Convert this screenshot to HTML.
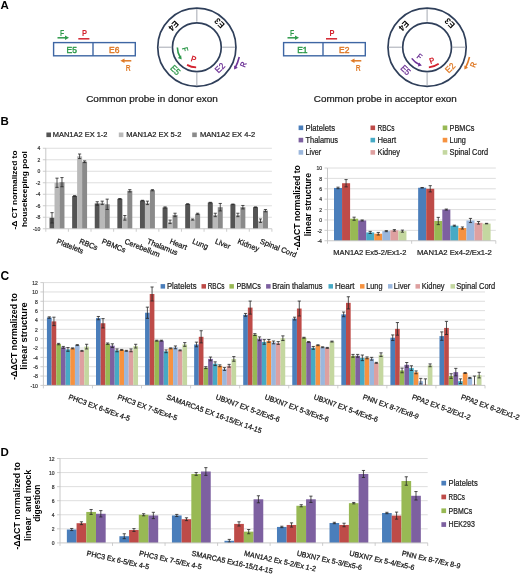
<!DOCTYPE html>
<html><head><meta charset="utf-8"><style>
html,body{margin:0;padding:0;background:#fff;}
svg{display:block;filter:blur(0.3px);}
text{font-family:"Liberation Sans", sans-serif;}
</style></head><body>
<svg width="520" height="576" viewBox="0 0 520 576">
<rect width="520" height="576" fill="#fff"/>
<text x="0.60" y="9.30" font-size="11.5" font-weight="bold">A</text>
<rect x="53.60" y="42.6" width="81.7" height="13.2" fill="none" stroke="#3e66a3" stroke-width="1.4"/>
<line x1="93.00" y1="42.60" x2="93.00" y2="55.80" stroke="#3e66a3" stroke-width="1.4"/>
<text x="71.80" y="52.50" font-size="9.2" fill="#2f9a4c" stroke="#2f9a4c" stroke-width="0.45" text-anchor="middle" textLength="10.4" lengthAdjust="spacingAndGlyphs">E5</text>
<text x="114.20" y="52.70" font-size="9.2" fill="#df7a27" stroke="#df7a27" stroke-width="0.45" text-anchor="middle" textLength="10.4" lengthAdjust="spacingAndGlyphs">E6</text>
<line x1="57.50" y1="37.80" x2="66.00" y2="37.80" stroke="#2f9a4c" stroke-width="1.5"/>
<path d="M65.00,35.6 L69.00,37.8 L65.00,40 Z" fill="#2f9a4c"/>
<text x="62.20" y="35.50" font-size="8.3" fill="#2f9a4c" font-weight="bold" text-anchor="middle" textLength="4.2" lengthAdjust="spacingAndGlyphs">F</text>
<line x1="78.30" y1="38.80" x2="89.40" y2="38.80" stroke="#d3232f" stroke-width="1.5"/>
<text x="84.40" y="36.40" font-size="8.3" fill="#d3232f" font-weight="bold" text-anchor="middle" textLength="5.0" lengthAdjust="spacingAndGlyphs">P</text>
<line x1="123.50" y1="60.80" x2="131.30" y2="60.80" stroke="#df7a27" stroke-width="1.5"/>
<path d="M124.50,58.6 L120.40,60.8 L124.50,63 Z" fill="#df7a27"/>
<text x="128.20" y="70.70" font-size="8.3" fill="#df7a27" font-weight="bold" text-anchor="middle" textLength="4.9" lengthAdjust="spacingAndGlyphs">R</text>
<rect x="283.60" y="42.6" width="81.7" height="13.2" fill="none" stroke="#3e66a3" stroke-width="1.4"/>
<line x1="323.00" y1="42.60" x2="323.00" y2="55.80" stroke="#3e66a3" stroke-width="1.4"/>
<text x="302.40" y="52.50" font-size="9.2" fill="#2f9a4c" stroke="#2f9a4c" stroke-width="0.45" text-anchor="middle" textLength="10.4" lengthAdjust="spacingAndGlyphs">E1</text>
<text x="344.20" y="52.70" font-size="9.2" fill="#df7a27" stroke="#df7a27" stroke-width="0.45" text-anchor="middle" textLength="10.4" lengthAdjust="spacingAndGlyphs">E2</text>
<line x1="287.50" y1="37.80" x2="296.00" y2="37.80" stroke="#2f9a4c" stroke-width="1.5"/>
<path d="M295.00,35.6 L299.00,37.8 L295.00,40 Z" fill="#2f9a4c"/>
<text x="292.20" y="35.50" font-size="8.3" fill="#2f9a4c" font-weight="bold" text-anchor="middle" textLength="4.2" lengthAdjust="spacingAndGlyphs">F</text>
<line x1="326.00" y1="38.80" x2="337.10" y2="38.80" stroke="#d3232f" stroke-width="1.5"/>
<text x="332.10" y="36.40" font-size="8.3" fill="#d3232f" font-weight="bold" text-anchor="middle" textLength="5.0" lengthAdjust="spacingAndGlyphs">P</text>
<line x1="353.50" y1="60.80" x2="361.30" y2="60.80" stroke="#df7a27" stroke-width="1.5"/>
<path d="M354.50,58.6 L350.40,60.8 L354.50,63 Z" fill="#df7a27"/>
<text x="358.20" y="70.70" font-size="8.3" fill="#df7a27" font-weight="bold" text-anchor="middle" textLength="4.9" lengthAdjust="spacingAndGlyphs">R</text>
<circle cx="196.85" cy="47.2" r="39.1" fill="none" stroke="#2f3f5a" stroke-width="1.7"/>
<circle cx="196.85" cy="47.2" r="24.4" fill="none" stroke="#2f3f5a" stroke-width="1.7"/>
<line x1="196.85" y1="21.70" x2="196.85" y2="9.00" stroke="#a4a9b2" stroke-width="1"/>
<line x1="196.85" y1="72.70" x2="196.85" y2="85.40" stroke="#a4a9b2" stroke-width="1"/>
<line x1="171.35" y1="47.20" x2="158.65" y2="47.20" stroke="#a4a9b2" stroke-width="1"/>
<line x1="222.35" y1="47.20" x2="235.05" y2="47.20" stroke="#a4a9b2" stroke-width="1"/>
<g transform="translate(173.65 25.90) rotate(-225.0)"><text x="0" y="3.2" font-size="9" font-weight="bold" fill="#000" text-anchor="middle" textLength="10" lengthAdjust="spacingAndGlyphs">E4</text></g>
<g transform="translate(219.35 23.20) rotate(-135.0)"><text x="0" y="3.2" font-size="9" font-weight="bold" fill="#000" text-anchor="middle" textLength="10" lengthAdjust="spacingAndGlyphs">E3</text></g>
<g transform="translate(219.85 67.80) rotate(-45.0)"><text x="0" y="3.2" font-size="9" stroke="#6e3497" stroke-width="0.3" fill="#6e3497" text-anchor="middle" textLength="10" lengthAdjust="spacingAndGlyphs">E2</text></g>
<g transform="translate(175.55 69.90) rotate(45.0)"><text x="0" y="3.2" font-size="9" stroke="#2f9a4c" stroke-width="0.3" fill="#2f9a4c" text-anchor="middle" textLength="10" lengthAdjust="spacingAndGlyphs">E5</text></g>
<circle cx="427.1" cy="47.2" r="39.1" fill="none" stroke="#2f3f5a" stroke-width="1.7"/>
<circle cx="427.1" cy="47.2" r="24.4" fill="none" stroke="#2f3f5a" stroke-width="1.7"/>
<line x1="427.10" y1="21.70" x2="427.10" y2="9.00" stroke="#a4a9b2" stroke-width="1"/>
<line x1="427.10" y1="72.70" x2="427.10" y2="85.40" stroke="#a4a9b2" stroke-width="1"/>
<line x1="401.60" y1="47.20" x2="388.90" y2="47.20" stroke="#a4a9b2" stroke-width="1"/>
<line x1="452.60" y1="47.20" x2="465.30" y2="47.20" stroke="#a4a9b2" stroke-width="1"/>
<g transform="translate(403.90 25.90) rotate(-225.0)"><text x="0" y="3.2" font-size="9" font-weight="bold" fill="#000" text-anchor="middle" textLength="10" lengthAdjust="spacingAndGlyphs">E4</text></g>
<g transform="translate(449.60 23.20) rotate(-135.0)"><text x="0" y="3.2" font-size="9" font-weight="bold" fill="#000" text-anchor="middle" textLength="10" lengthAdjust="spacingAndGlyphs">E3</text></g>
<g transform="translate(450.10 67.80) rotate(-45.0)"><text x="0" y="3.2" font-size="9" stroke="#df7a27" stroke-width="0.3" fill="#df7a27" text-anchor="middle" textLength="10" lengthAdjust="spacingAndGlyphs">E2</text></g>
<g transform="translate(405.80 69.90) rotate(45.0)"><text x="0" y="3.2" font-size="9" stroke="#6e3497" stroke-width="0.3" fill="#6e3497" text-anchor="middle" textLength="10" lengthAdjust="spacingAndGlyphs">E5</text></g>
<path d="M177.35,47.54 A19.5,19.5 0 0 0 180.24,57.42" fill="none" stroke="#2f9a4c" stroke-width="1.6"/>
<path d="M181.70,59.47 L177.75,58.03 L181.11,55.31 Z" fill="#2f9a4c"/>
<g transform="translate(185.20 49.20) rotate(75.0)"><text x="0" y="3.06" font-size="8.5" font-weight="bold" fill="#2f9a4c" text-anchor="middle" textLength="4.4" lengthAdjust="spacingAndGlyphs">F</text></g>
<path d="M187.06,64.87 A20.2,20.2 0 0 0 196.15,67.39" fill="none" stroke="#d3232f" stroke-width="1.8"/>
<g transform="translate(193.60 58.80) rotate(18.0)"><text x="0" y="3.06" font-size="8.5" font-weight="bold" fill="#d3232f" text-anchor="middle" textLength="5.2" lengthAdjust="spacingAndGlyphs">P</text></g>
<path d="M239.24,56.99 A43.5,43.5 0 0 1 235.37,67.41" fill="none" stroke="#6e3497" stroke-width="1.6"/>
<path d="M234.14,69.60 L234.14,65.41 L237.84,67.63 Z" fill="#6e3497"/>
<g transform="translate(243.20 64.40) rotate(-68.0)"><text x="0" y="3.06" font-size="8.5" font-weight="bold" fill="#6e3497" text-anchor="middle" textLength="5.2" lengthAdjust="spacingAndGlyphs">R</text></g>
<path d="M411.73,58.37 A19,19 0 0 0 419.49,64.61" fill="none" stroke="#6e3497" stroke-width="1.6"/>
<path d="M421.86,65.46 L417.81,66.55 L419.00,62.40 Z" fill="#6e3497"/>
<g transform="translate(419.60 56.50) rotate(38.0)"><text x="0" y="3.06" font-size="8.5" font-weight="bold" fill="#6e3497" text-anchor="middle" textLength="4.4" lengthAdjust="spacingAndGlyphs">F</text></g>
<path d="M428.86,67.32 A20.2,20.2 0 0 0 438.69,63.75" fill="none" stroke="#d3232f" stroke-width="1.8"/>
<g transform="translate(431.80 60.50) rotate(-20.0)"><text x="0" y="3.06" font-size="8.5" font-weight="bold" fill="#d3232f" text-anchor="middle" textLength="5.2" lengthAdjust="spacingAndGlyphs">P</text></g>
<path d="M469.49,56.99 A43.5,43.5 0 0 1 465.62,67.41" fill="none" stroke="#df7a27" stroke-width="1.6"/>
<path d="M464.39,69.60 L464.39,65.41 L468.09,67.63 Z" fill="#df7a27"/>
<g transform="translate(473.20 64.60) rotate(-68.0)"><text x="0" y="3.06" font-size="8.5" font-weight="bold" fill="#df7a27" text-anchor="middle" textLength="5.2" lengthAdjust="spacingAndGlyphs">R</text></g>
<text x="152.00" y="102.00" font-size="8.4" fill="#222" stroke="#222" stroke-width="0.22" text-anchor="middle" textLength="131.6" lengthAdjust="spacingAndGlyphs">Common probe in donor exon</text>
<text x="385.30" y="102.00" font-size="8.4" fill="#222" stroke="#222" stroke-width="0.22" text-anchor="middle" textLength="143" lengthAdjust="spacingAndGlyphs">Common probe in acceptor exon</text>
<text x="0.60" y="124.80" font-size="11.5" font-weight="bold">B</text>
<line x1="45.80" y1="148.25" x2="271.90" y2="148.25" stroke="#dadada" stroke-width="0.9"/>
<line x1="42.80" y1="148.25" x2="45.80" y2="148.25" stroke="#c2c2c2" stroke-width="0.8"/>
<text x="40.30" y="150.48" font-size="6.2" fill="#333" stroke="#333" stroke-width="0.22" text-anchor="end" textLength="2.8" lengthAdjust="spacingAndGlyphs">4</text>
<line x1="45.80" y1="159.75" x2="271.90" y2="159.75" stroke="#dadada" stroke-width="0.9"/>
<line x1="42.80" y1="159.75" x2="45.80" y2="159.75" stroke="#c2c2c2" stroke-width="0.8"/>
<text x="40.30" y="161.98" font-size="6.2" fill="#333" stroke="#333" stroke-width="0.22" text-anchor="end" textLength="2.8" lengthAdjust="spacingAndGlyphs">2</text>
<line x1="45.80" y1="171.25" x2="271.90" y2="171.25" stroke="#dadada" stroke-width="0.9"/>
<line x1="42.80" y1="171.25" x2="45.80" y2="171.25" stroke="#c2c2c2" stroke-width="0.8"/>
<text x="40.30" y="173.48" font-size="6.2" fill="#333" stroke="#333" stroke-width="0.22" text-anchor="end" textLength="2.8" lengthAdjust="spacingAndGlyphs">0</text>
<line x1="45.80" y1="182.75" x2="271.90" y2="182.75" stroke="#dadada" stroke-width="0.9"/>
<line x1="42.80" y1="182.75" x2="45.80" y2="182.75" stroke="#c2c2c2" stroke-width="0.8"/>
<text x="40.30" y="184.98" font-size="6.2" fill="#333" stroke="#333" stroke-width="0.22" text-anchor="end" textLength="4.6" lengthAdjust="spacingAndGlyphs">-2</text>
<line x1="45.80" y1="194.25" x2="271.90" y2="194.25" stroke="#dadada" stroke-width="0.9"/>
<line x1="42.80" y1="194.25" x2="45.80" y2="194.25" stroke="#c2c2c2" stroke-width="0.8"/>
<text x="40.30" y="196.48" font-size="6.2" fill="#333" stroke="#333" stroke-width="0.22" text-anchor="end" textLength="4.6" lengthAdjust="spacingAndGlyphs">-4</text>
<line x1="45.80" y1="205.75" x2="271.90" y2="205.75" stroke="#dadada" stroke-width="0.9"/>
<line x1="42.80" y1="205.75" x2="45.80" y2="205.75" stroke="#c2c2c2" stroke-width="0.8"/>
<text x="40.30" y="207.98" font-size="6.2" fill="#333" stroke="#333" stroke-width="0.22" text-anchor="end" textLength="4.6" lengthAdjust="spacingAndGlyphs">-6</text>
<line x1="45.80" y1="217.25" x2="271.90" y2="217.25" stroke="#dadada" stroke-width="0.9"/>
<line x1="42.80" y1="217.25" x2="45.80" y2="217.25" stroke="#c2c2c2" stroke-width="0.8"/>
<text x="40.30" y="219.48" font-size="6.2" fill="#333" stroke="#333" stroke-width="0.22" text-anchor="end" textLength="4.6" lengthAdjust="spacingAndGlyphs">-8</text>
<line x1="42.80" y1="228.75" x2="45.80" y2="228.75" stroke="#c2c2c2" stroke-width="0.8"/>
<text x="40.30" y="230.98" font-size="6.2" fill="#333" stroke="#333" stroke-width="0.22" text-anchor="end" textLength="7.3999999999999995" lengthAdjust="spacingAndGlyphs">-10</text>
<rect x="49.53" y="217.82" width="4.98" height="10.93" fill="#545454"/>
<line x1="52.02" y1="212.65" x2="52.02" y2="223.00" stroke="#262626" stroke-width="0.8"/>
<line x1="50.42" y1="212.65" x2="53.62" y2="212.65" stroke="#262626" stroke-width="0.8"/>
<line x1="50.42" y1="223.00" x2="53.62" y2="223.00" stroke="#262626" stroke-width="0.8"/>
<rect x="54.51" y="182.75" width="4.98" height="46.00" fill="#b9b9b9"/>
<line x1="57.00" y1="178.15" x2="57.00" y2="187.35" stroke="#262626" stroke-width="0.8"/>
<line x1="55.40" y1="178.15" x2="58.60" y2="178.15" stroke="#262626" stroke-width="0.8"/>
<line x1="55.40" y1="187.35" x2="58.60" y2="187.35" stroke="#262626" stroke-width="0.8"/>
<rect x="59.49" y="182.18" width="4.98" height="46.57" fill="#8a8a8a"/>
<line x1="61.98" y1="177.57" x2="61.98" y2="186.78" stroke="#262626" stroke-width="0.8"/>
<line x1="60.38" y1="177.57" x2="63.58" y2="177.57" stroke="#262626" stroke-width="0.8"/>
<line x1="60.38" y1="186.78" x2="63.58" y2="186.78" stroke="#262626" stroke-width="0.8"/>
<rect x="72.14" y="195.98" width="4.98" height="32.77" fill="#545454"/>
<line x1="74.63" y1="195.69" x2="74.63" y2="196.26" stroke="#262626" stroke-width="0.8"/>
<line x1="73.03" y1="195.69" x2="76.23" y2="195.69" stroke="#262626" stroke-width="0.8"/>
<line x1="73.03" y1="196.26" x2="76.23" y2="196.26" stroke="#262626" stroke-width="0.8"/>
<rect x="77.12" y="156.30" width="4.98" height="72.45" fill="#b9b9b9"/>
<line x1="79.61" y1="154.00" x2="79.61" y2="158.60" stroke="#262626" stroke-width="0.8"/>
<line x1="78.01" y1="154.00" x2="81.21" y2="154.00" stroke="#262626" stroke-width="0.8"/>
<line x1="78.01" y1="158.60" x2="81.21" y2="158.60" stroke="#262626" stroke-width="0.8"/>
<rect x="82.10" y="161.76" width="4.98" height="66.99" fill="#8a8a8a"/>
<line x1="84.59" y1="160.90" x2="84.59" y2="162.62" stroke="#262626" stroke-width="0.8"/>
<line x1="82.99" y1="160.90" x2="86.19" y2="160.90" stroke="#262626" stroke-width="0.8"/>
<line x1="82.99" y1="162.62" x2="86.19" y2="162.62" stroke="#262626" stroke-width="0.8"/>
<rect x="94.75" y="203.45" width="4.98" height="25.30" fill="#545454"/>
<line x1="97.24" y1="201.73" x2="97.24" y2="205.18" stroke="#262626" stroke-width="0.8"/>
<line x1="95.64" y1="201.73" x2="98.84" y2="201.73" stroke="#262626" stroke-width="0.8"/>
<line x1="95.64" y1="205.18" x2="98.84" y2="205.18" stroke="#262626" stroke-width="0.8"/>
<rect x="99.73" y="202.88" width="4.98" height="25.88" fill="#b9b9b9"/>
<line x1="102.22" y1="201.15" x2="102.22" y2="204.60" stroke="#262626" stroke-width="0.8"/>
<line x1="100.62" y1="201.15" x2="103.82" y2="201.15" stroke="#262626" stroke-width="0.8"/>
<line x1="100.62" y1="204.60" x2="103.82" y2="204.60" stroke="#262626" stroke-width="0.8"/>
<rect x="104.71" y="204.31" width="4.98" height="24.44" fill="#8a8a8a"/>
<line x1="107.20" y1="199.14" x2="107.20" y2="209.49" stroke="#262626" stroke-width="0.8"/>
<line x1="105.60" y1="199.14" x2="108.80" y2="199.14" stroke="#262626" stroke-width="0.8"/>
<line x1="105.60" y1="209.49" x2="108.80" y2="209.49" stroke="#262626" stroke-width="0.8"/>
<rect x="117.36" y="198.85" width="4.98" height="29.90" fill="#545454"/>
<line x1="119.85" y1="198.56" x2="119.85" y2="199.14" stroke="#262626" stroke-width="0.8"/>
<line x1="118.25" y1="198.56" x2="121.45" y2="198.56" stroke="#262626" stroke-width="0.8"/>
<line x1="118.25" y1="199.14" x2="121.45" y2="199.14" stroke="#262626" stroke-width="0.8"/>
<rect x="122.34" y="217.82" width="4.98" height="10.93" fill="#b9b9b9"/>
<line x1="124.83" y1="215.52" x2="124.83" y2="220.12" stroke="#262626" stroke-width="0.8"/>
<line x1="123.23" y1="215.52" x2="126.43" y2="215.52" stroke="#262626" stroke-width="0.8"/>
<line x1="123.23" y1="220.12" x2="126.43" y2="220.12" stroke="#262626" stroke-width="0.8"/>
<rect x="127.32" y="190.80" width="4.98" height="37.95" fill="#8a8a8a"/>
<line x1="129.81" y1="189.65" x2="129.81" y2="191.95" stroke="#262626" stroke-width="0.8"/>
<line x1="128.21" y1="189.65" x2="131.41" y2="189.65" stroke="#262626" stroke-width="0.8"/>
<line x1="128.21" y1="191.95" x2="131.41" y2="191.95" stroke="#262626" stroke-width="0.8"/>
<rect x="139.97" y="200.57" width="4.98" height="28.18" fill="#545454"/>
<line x1="142.46" y1="200.29" x2="142.46" y2="200.86" stroke="#262626" stroke-width="0.8"/>
<line x1="140.86" y1="200.29" x2="144.06" y2="200.29" stroke="#262626" stroke-width="0.8"/>
<line x1="140.86" y1="200.86" x2="144.06" y2="200.86" stroke="#262626" stroke-width="0.8"/>
<rect x="144.95" y="202.88" width="4.98" height="25.88" fill="#b9b9b9"/>
<line x1="147.44" y1="201.15" x2="147.44" y2="204.60" stroke="#262626" stroke-width="0.8"/>
<line x1="145.84" y1="201.15" x2="149.04" y2="201.15" stroke="#262626" stroke-width="0.8"/>
<line x1="145.84" y1="204.60" x2="149.04" y2="204.60" stroke="#262626" stroke-width="0.8"/>
<rect x="149.93" y="190.22" width="4.98" height="38.53" fill="#8a8a8a"/>
<line x1="152.42" y1="189.65" x2="152.42" y2="190.80" stroke="#262626" stroke-width="0.8"/>
<line x1="150.82" y1="189.65" x2="154.02" y2="189.65" stroke="#262626" stroke-width="0.8"/>
<line x1="150.82" y1="190.80" x2="154.02" y2="190.80" stroke="#262626" stroke-width="0.8"/>
<rect x="162.58" y="207.48" width="4.98" height="21.27" fill="#545454"/>
<line x1="165.07" y1="206.90" x2="165.07" y2="208.05" stroke="#262626" stroke-width="0.8"/>
<line x1="163.47" y1="206.90" x2="166.67" y2="206.90" stroke="#262626" stroke-width="0.8"/>
<line x1="163.47" y1="208.05" x2="166.67" y2="208.05" stroke="#262626" stroke-width="0.8"/>
<rect x="167.56" y="221.85" width="4.98" height="6.90" fill="#b9b9b9"/>
<line x1="170.05" y1="220.12" x2="170.05" y2="223.58" stroke="#262626" stroke-width="0.8"/>
<line x1="168.45" y1="220.12" x2="171.65" y2="220.12" stroke="#262626" stroke-width="0.8"/>
<line x1="168.45" y1="223.58" x2="171.65" y2="223.58" stroke="#262626" stroke-width="0.8"/>
<rect x="172.54" y="214.95" width="4.98" height="13.80" fill="#8a8a8a"/>
<line x1="175.03" y1="213.23" x2="175.03" y2="216.68" stroke="#262626" stroke-width="0.8"/>
<line x1="173.43" y1="213.23" x2="176.63" y2="213.23" stroke="#262626" stroke-width="0.8"/>
<line x1="173.43" y1="216.68" x2="176.63" y2="216.68" stroke="#262626" stroke-width="0.8"/>
<rect x="185.19" y="204.02" width="4.98" height="24.73" fill="#545454"/>
<line x1="187.68" y1="203.74" x2="187.68" y2="204.31" stroke="#262626" stroke-width="0.8"/>
<line x1="186.08" y1="203.74" x2="189.28" y2="203.74" stroke="#262626" stroke-width="0.8"/>
<line x1="186.08" y1="204.31" x2="189.28" y2="204.31" stroke="#262626" stroke-width="0.8"/>
<rect x="190.17" y="219.55" width="4.98" height="9.20" fill="#b9b9b9"/>
<line x1="192.66" y1="218.98" x2="192.66" y2="220.12" stroke="#262626" stroke-width="0.8"/>
<line x1="191.06" y1="218.98" x2="194.26" y2="218.98" stroke="#262626" stroke-width="0.8"/>
<line x1="191.06" y1="220.12" x2="194.26" y2="220.12" stroke="#262626" stroke-width="0.8"/>
<rect x="195.15" y="213.80" width="4.98" height="14.95" fill="#8a8a8a"/>
<line x1="197.64" y1="213.23" x2="197.64" y2="214.38" stroke="#262626" stroke-width="0.8"/>
<line x1="196.04" y1="213.23" x2="199.24" y2="213.23" stroke="#262626" stroke-width="0.8"/>
<line x1="196.04" y1="214.38" x2="199.24" y2="214.38" stroke="#262626" stroke-width="0.8"/>
<rect x="207.80" y="202.59" width="4.98" height="26.16" fill="#545454"/>
<line x1="210.29" y1="202.30" x2="210.29" y2="202.88" stroke="#262626" stroke-width="0.8"/>
<line x1="208.69" y1="202.30" x2="211.89" y2="202.30" stroke="#262626" stroke-width="0.8"/>
<line x1="208.69" y1="202.88" x2="211.89" y2="202.88" stroke="#262626" stroke-width="0.8"/>
<rect x="212.78" y="214.95" width="4.98" height="13.80" fill="#b9b9b9"/>
<line x1="215.27" y1="213.23" x2="215.27" y2="216.68" stroke="#262626" stroke-width="0.8"/>
<line x1="213.67" y1="213.23" x2="216.87" y2="213.23" stroke="#262626" stroke-width="0.8"/>
<line x1="213.67" y1="216.68" x2="216.87" y2="216.68" stroke="#262626" stroke-width="0.8"/>
<rect x="217.76" y="207.19" width="4.98" height="21.56" fill="#8a8a8a"/>
<line x1="220.25" y1="203.45" x2="220.25" y2="210.93" stroke="#262626" stroke-width="0.8"/>
<line x1="218.65" y1="203.45" x2="221.85" y2="203.45" stroke="#262626" stroke-width="0.8"/>
<line x1="218.65" y1="210.93" x2="221.85" y2="210.93" stroke="#262626" stroke-width="0.8"/>
<rect x="230.41" y="204.31" width="4.98" height="24.44" fill="#545454"/>
<line x1="232.90" y1="204.02" x2="232.90" y2="204.60" stroke="#262626" stroke-width="0.8"/>
<line x1="231.30" y1="204.02" x2="234.50" y2="204.02" stroke="#262626" stroke-width="0.8"/>
<line x1="231.30" y1="204.60" x2="234.50" y2="204.60" stroke="#262626" stroke-width="0.8"/>
<rect x="235.39" y="214.95" width="4.98" height="13.80" fill="#b9b9b9"/>
<line x1="237.88" y1="213.23" x2="237.88" y2="216.68" stroke="#262626" stroke-width="0.8"/>
<line x1="236.28" y1="213.23" x2="239.48" y2="213.23" stroke="#262626" stroke-width="0.8"/>
<line x1="236.28" y1="216.68" x2="239.48" y2="216.68" stroke="#262626" stroke-width="0.8"/>
<rect x="240.37" y="207.19" width="4.98" height="21.56" fill="#8a8a8a"/>
<line x1="242.86" y1="205.46" x2="242.86" y2="208.91" stroke="#262626" stroke-width="0.8"/>
<line x1="241.26" y1="205.46" x2="244.46" y2="205.46" stroke="#262626" stroke-width="0.8"/>
<line x1="241.26" y1="208.91" x2="244.46" y2="208.91" stroke="#262626" stroke-width="0.8"/>
<rect x="253.02" y="207.19" width="4.98" height="21.56" fill="#545454"/>
<line x1="255.51" y1="206.90" x2="255.51" y2="207.48" stroke="#262626" stroke-width="0.8"/>
<line x1="253.91" y1="206.90" x2="257.11" y2="206.90" stroke="#262626" stroke-width="0.8"/>
<line x1="253.91" y1="207.48" x2="257.11" y2="207.48" stroke="#262626" stroke-width="0.8"/>
<rect x="258.00" y="220.70" width="4.98" height="8.05" fill="#b9b9b9"/>
<line x1="260.49" y1="218.97" x2="260.49" y2="222.43" stroke="#262626" stroke-width="0.8"/>
<line x1="258.89" y1="218.97" x2="262.09" y2="218.97" stroke="#262626" stroke-width="0.8"/>
<line x1="258.89" y1="222.43" x2="262.09" y2="222.43" stroke="#262626" stroke-width="0.8"/>
<rect x="262.98" y="210.64" width="4.98" height="18.11" fill="#8a8a8a"/>
<line x1="265.47" y1="209.49" x2="265.47" y2="211.79" stroke="#262626" stroke-width="0.8"/>
<line x1="263.87" y1="209.49" x2="267.07" y2="209.49" stroke="#262626" stroke-width="0.8"/>
<line x1="263.87" y1="211.79" x2="267.07" y2="211.79" stroke="#262626" stroke-width="0.8"/>
<line x1="45.80" y1="148.25" x2="45.80" y2="228.75" stroke="#c2c2c2" stroke-width="0.9"/>
<line x1="45.80" y1="228.75" x2="271.90" y2="228.75" stroke="#c2c2c2" stroke-width="0.9"/>
<line x1="45.80" y1="228.75" x2="45.80" y2="231.75" stroke="#c2c2c2" stroke-width="0.8"/>
<line x1="68.41" y1="228.75" x2="68.41" y2="231.75" stroke="#c2c2c2" stroke-width="0.8"/>
<line x1="91.02" y1="228.75" x2="91.02" y2="231.75" stroke="#c2c2c2" stroke-width="0.8"/>
<line x1="113.63" y1="228.75" x2="113.63" y2="231.75" stroke="#c2c2c2" stroke-width="0.8"/>
<line x1="136.24" y1="228.75" x2="136.24" y2="231.75" stroke="#c2c2c2" stroke-width="0.8"/>
<line x1="158.85" y1="228.75" x2="158.85" y2="231.75" stroke="#c2c2c2" stroke-width="0.8"/>
<line x1="181.46" y1="228.75" x2="181.46" y2="231.75" stroke="#c2c2c2" stroke-width="0.8"/>
<line x1="204.07" y1="228.75" x2="204.07" y2="231.75" stroke="#c2c2c2" stroke-width="0.8"/>
<line x1="226.68" y1="228.75" x2="226.68" y2="231.75" stroke="#c2c2c2" stroke-width="0.8"/>
<line x1="249.29" y1="228.75" x2="249.29" y2="231.75" stroke="#c2c2c2" stroke-width="0.8"/>
<line x1="271.90" y1="228.75" x2="271.90" y2="231.75" stroke="#c2c2c2" stroke-width="0.8"/>
<rect x="46.40" y="132.50" width="4.60" height="4.60" fill="#545454"/>
<text x="52.80" y="137.30" font-size="7.8" fill="#222" stroke="#222" stroke-width="0.22" textLength="54.7" lengthAdjust="spacingAndGlyphs">MAN1A2 EX 1-2</text>
<rect x="118.80" y="132.50" width="4.60" height="4.60" fill="#b9b9b9"/>
<text x="126.30" y="137.30" font-size="7.8" fill="#222" stroke="#222" stroke-width="0.22" textLength="55.2" lengthAdjust="spacingAndGlyphs">MAN1A2 EX 5-2</text>
<rect x="192.20" y="132.50" width="4.60" height="4.60" fill="#8a8a8a"/>
<text x="199.90" y="137.30" font-size="7.8" fill="#222" stroke="#222" stroke-width="0.22" textLength="55.2" lengthAdjust="spacingAndGlyphs">MAN1A2 EX 4-2</text>
<text x="0" y="0" font-size="7.6" font-weight="bold" text-anchor="middle" textLength="79" lengthAdjust="spacingAndGlyphs" transform="translate(17.20 190.00) rotate(-90)">-Δ CT normalized to</text>
<text x="0" y="0" font-size="7.6" font-weight="bold" text-anchor="middle" textLength="75.8" lengthAdjust="spacingAndGlyphs" transform="translate(26.80 189.10) rotate(-90)">housekeeping pool</text>
<text x="0" y="0" font-size="7.6" fill="#111" stroke="#111" stroke-width="0.22" transform="translate(56.10 243.20) rotate(22) scale(0.97 1)">Platelets</text>
<text x="0" y="0" font-size="7.6" fill="#111" stroke="#111" stroke-width="0.22" transform="translate(78.72 243.20) rotate(22) scale(0.97 1)">RBCs</text>
<text x="0" y="0" font-size="7.6" fill="#111" stroke="#111" stroke-width="0.22" transform="translate(101.32 243.20) rotate(22) scale(0.97 1)">PBMCs</text>
<text x="0" y="0" font-size="7.6" fill="#111" stroke="#111" stroke-width="0.22" transform="translate(123.93 243.20) rotate(22) scale(0.97 1)">Cerebellum</text>
<text x="0" y="0" font-size="7.6" fill="#111" stroke="#111" stroke-width="0.22" transform="translate(146.55 243.20) rotate(22) scale(0.97 1)">Thalamus</text>
<text x="0" y="0" font-size="7.6" fill="#111" stroke="#111" stroke-width="0.22" transform="translate(169.15 243.20) rotate(22) scale(0.97 1)">Heart</text>
<text x="0" y="0" font-size="7.6" fill="#111" stroke="#111" stroke-width="0.22" transform="translate(191.76 243.20) rotate(22) scale(0.97 1)">Lung</text>
<text x="0" y="0" font-size="7.6" fill="#111" stroke="#111" stroke-width="0.22" transform="translate(214.38 243.20) rotate(22) scale(0.97 1)">Liver</text>
<text x="0" y="0" font-size="7.6" fill="#111" stroke="#111" stroke-width="0.22" transform="translate(236.99 243.20) rotate(22) scale(0.97 1)">Kidney</text>
<text x="0" y="0" font-size="7.6" fill="#111" stroke="#111" stroke-width="0.22" transform="translate(259.59 243.20) rotate(22) scale(0.97 1)">Spinal Cord</text>
<line x1="327.50" y1="168.00" x2="495.80" y2="168.00" stroke="#dadada" stroke-width="0.9"/>
<line x1="324.50" y1="168.00" x2="327.50" y2="168.00" stroke="#c2c2c2" stroke-width="0.8"/>
<text x="322.00" y="170.23" font-size="6.2" fill="#333" stroke="#333" stroke-width="0.22" text-anchor="end" textLength="5.6" lengthAdjust="spacingAndGlyphs">10</text>
<line x1="327.50" y1="178.39" x2="495.80" y2="178.39" stroke="#dadada" stroke-width="0.9"/>
<line x1="324.50" y1="178.39" x2="327.50" y2="178.39" stroke="#c2c2c2" stroke-width="0.8"/>
<text x="322.00" y="180.62" font-size="6.2" fill="#333" stroke="#333" stroke-width="0.22" text-anchor="end" textLength="2.8" lengthAdjust="spacingAndGlyphs">8</text>
<line x1="327.50" y1="188.79" x2="495.80" y2="188.79" stroke="#dadada" stroke-width="0.9"/>
<line x1="324.50" y1="188.79" x2="327.50" y2="188.79" stroke="#c2c2c2" stroke-width="0.8"/>
<text x="322.00" y="191.02" font-size="6.2" fill="#333" stroke="#333" stroke-width="0.22" text-anchor="end" textLength="2.8" lengthAdjust="spacingAndGlyphs">6</text>
<line x1="327.50" y1="199.18" x2="495.80" y2="199.18" stroke="#dadada" stroke-width="0.9"/>
<line x1="324.50" y1="199.18" x2="327.50" y2="199.18" stroke="#c2c2c2" stroke-width="0.8"/>
<text x="322.00" y="201.41" font-size="6.2" fill="#333" stroke="#333" stroke-width="0.22" text-anchor="end" textLength="2.8" lengthAdjust="spacingAndGlyphs">4</text>
<line x1="327.50" y1="209.57" x2="495.80" y2="209.57" stroke="#dadada" stroke-width="0.9"/>
<line x1="324.50" y1="209.57" x2="327.50" y2="209.57" stroke="#c2c2c2" stroke-width="0.8"/>
<text x="322.00" y="211.80" font-size="6.2" fill="#333" stroke="#333" stroke-width="0.22" text-anchor="end" textLength="2.8" lengthAdjust="spacingAndGlyphs">2</text>
<line x1="327.50" y1="219.96" x2="495.80" y2="219.96" stroke="#dadada" stroke-width="0.9"/>
<line x1="324.50" y1="219.96" x2="327.50" y2="219.96" stroke="#c2c2c2" stroke-width="0.8"/>
<text x="322.00" y="222.20" font-size="6.2" fill="#333" stroke="#333" stroke-width="0.22" text-anchor="end" textLength="2.8" lengthAdjust="spacingAndGlyphs">0</text>
<line x1="327.50" y1="230.36" x2="495.80" y2="230.36" stroke="#dadada" stroke-width="0.9"/>
<line x1="324.50" y1="230.36" x2="327.50" y2="230.36" stroke="#c2c2c2" stroke-width="0.8"/>
<text x="322.00" y="232.59" font-size="6.2" fill="#333" stroke="#333" stroke-width="0.22" text-anchor="end" textLength="4.6" lengthAdjust="spacingAndGlyphs">-2</text>
<line x1="324.50" y1="240.75" x2="327.50" y2="240.75" stroke="#c2c2c2" stroke-width="0.8"/>
<text x="322.00" y="242.98" font-size="6.2" fill="#333" stroke="#333" stroke-width="0.22" text-anchor="end" textLength="4.6" lengthAdjust="spacingAndGlyphs">-4</text>
<rect x="334.00" y="187.95" width="8.05" height="52.80" fill="#4a7ebb"/>
<line x1="338.02" y1="187.17" x2="338.02" y2="188.73" stroke="#262626" stroke-width="0.8"/>
<line x1="336.42" y1="187.17" x2="339.62" y2="187.17" stroke="#262626" stroke-width="0.8"/>
<line x1="336.42" y1="188.73" x2="339.62" y2="188.73" stroke="#262626" stroke-width="0.8"/>
<rect x="342.05" y="183.23" width="8.05" height="57.52" fill="#be4b48"/>
<line x1="346.07" y1="179.59" x2="346.07" y2="186.86" stroke="#262626" stroke-width="0.8"/>
<line x1="344.47" y1="179.59" x2="347.68" y2="179.59" stroke="#262626" stroke-width="0.8"/>
<line x1="344.47" y1="186.86" x2="347.68" y2="186.86" stroke="#262626" stroke-width="0.8"/>
<rect x="350.10" y="218.72" width="8.05" height="22.03" fill="#98b954"/>
<line x1="354.12" y1="217.16" x2="354.12" y2="220.28" stroke="#262626" stroke-width="0.8"/>
<line x1="352.52" y1="217.16" x2="355.73" y2="217.16" stroke="#262626" stroke-width="0.8"/>
<line x1="352.52" y1="220.28" x2="355.73" y2="220.28" stroke="#262626" stroke-width="0.8"/>
<rect x="358.15" y="220.48" width="8.05" height="20.27" fill="#7d60a0"/>
<line x1="362.17" y1="219.96" x2="362.17" y2="221.00" stroke="#262626" stroke-width="0.8"/>
<line x1="360.57" y1="219.96" x2="363.77" y2="219.96" stroke="#262626" stroke-width="0.8"/>
<line x1="360.57" y1="221.00" x2="363.77" y2="221.00" stroke="#262626" stroke-width="0.8"/>
<rect x="366.20" y="232.44" width="8.05" height="8.31" fill="#46aac5"/>
<line x1="370.22" y1="231.40" x2="370.22" y2="233.47" stroke="#262626" stroke-width="0.8"/>
<line x1="368.62" y1="231.40" x2="371.82" y2="231.40" stroke="#262626" stroke-width="0.8"/>
<line x1="368.62" y1="233.47" x2="371.82" y2="233.47" stroke="#262626" stroke-width="0.8"/>
<rect x="374.25" y="233.73" width="8.05" height="7.02" fill="#f69240"/>
<line x1="378.27" y1="232.44" x2="378.27" y2="235.03" stroke="#262626" stroke-width="0.8"/>
<line x1="376.67" y1="232.44" x2="379.88" y2="232.44" stroke="#262626" stroke-width="0.8"/>
<line x1="376.67" y1="235.03" x2="379.88" y2="235.03" stroke="#262626" stroke-width="0.8"/>
<rect x="382.30" y="231.14" width="8.05" height="9.61" fill="#9bb7dd"/>
<line x1="386.32" y1="230.62" x2="386.32" y2="231.66" stroke="#262626" stroke-width="0.8"/>
<line x1="384.72" y1="230.62" x2="387.93" y2="230.62" stroke="#262626" stroke-width="0.8"/>
<line x1="384.72" y1="231.66" x2="387.93" y2="231.66" stroke="#262626" stroke-width="0.8"/>
<rect x="390.35" y="230.36" width="8.05" height="10.39" fill="#dea0a0"/>
<line x1="394.38" y1="229.58" x2="394.38" y2="231.14" stroke="#262626" stroke-width="0.8"/>
<line x1="392.77" y1="229.58" x2="395.98" y2="229.58" stroke="#262626" stroke-width="0.8"/>
<line x1="392.77" y1="231.14" x2="395.98" y2="231.14" stroke="#262626" stroke-width="0.8"/>
<rect x="398.40" y="231.14" width="8.05" height="9.61" fill="#c4d7a0"/>
<line x1="402.42" y1="230.10" x2="402.42" y2="232.18" stroke="#262626" stroke-width="0.8"/>
<line x1="400.82" y1="230.10" x2="404.02" y2="230.10" stroke="#262626" stroke-width="0.8"/>
<line x1="400.82" y1="232.18" x2="404.02" y2="232.18" stroke="#262626" stroke-width="0.8"/>
<rect x="418.15" y="187.75" width="8.05" height="53.00" fill="#4a7ebb"/>
<line x1="422.17" y1="187.49" x2="422.17" y2="188.01" stroke="#262626" stroke-width="0.8"/>
<line x1="420.57" y1="187.49" x2="423.77" y2="187.49" stroke="#262626" stroke-width="0.8"/>
<line x1="420.57" y1="188.01" x2="423.77" y2="188.01" stroke="#262626" stroke-width="0.8"/>
<rect x="426.20" y="188.79" width="8.05" height="51.96" fill="#be4b48"/>
<line x1="430.22" y1="185.67" x2="430.22" y2="191.90" stroke="#262626" stroke-width="0.8"/>
<line x1="428.62" y1="185.67" x2="431.82" y2="185.67" stroke="#262626" stroke-width="0.8"/>
<line x1="428.62" y1="191.90" x2="431.82" y2="191.90" stroke="#262626" stroke-width="0.8"/>
<rect x="434.25" y="221.00" width="8.05" height="19.75" fill="#98b954"/>
<line x1="438.27" y1="217.37" x2="438.27" y2="224.64" stroke="#262626" stroke-width="0.8"/>
<line x1="436.67" y1="217.37" x2="439.88" y2="217.37" stroke="#262626" stroke-width="0.8"/>
<line x1="436.67" y1="224.64" x2="439.88" y2="224.64" stroke="#262626" stroke-width="0.8"/>
<rect x="442.30" y="209.57" width="8.05" height="31.18" fill="#7d60a0"/>
<line x1="446.32" y1="209.05" x2="446.32" y2="210.09" stroke="#262626" stroke-width="0.8"/>
<line x1="444.72" y1="209.05" x2="447.92" y2="209.05" stroke="#262626" stroke-width="0.8"/>
<line x1="444.72" y1="210.09" x2="447.92" y2="210.09" stroke="#262626" stroke-width="0.8"/>
<rect x="450.35" y="225.68" width="8.05" height="15.07" fill="#46aac5"/>
<line x1="454.37" y1="225.16" x2="454.37" y2="226.20" stroke="#262626" stroke-width="0.8"/>
<line x1="452.77" y1="225.16" x2="455.97" y2="225.16" stroke="#262626" stroke-width="0.8"/>
<line x1="452.77" y1="226.20" x2="455.97" y2="226.20" stroke="#262626" stroke-width="0.8"/>
<rect x="458.40" y="228.02" width="8.05" height="12.73" fill="#f69240"/>
<line x1="462.42" y1="226.98" x2="462.42" y2="229.06" stroke="#262626" stroke-width="0.8"/>
<line x1="460.82" y1="226.98" x2="464.02" y2="226.98" stroke="#262626" stroke-width="0.8"/>
<line x1="460.82" y1="229.06" x2="464.02" y2="229.06" stroke="#262626" stroke-width="0.8"/>
<rect x="466.45" y="220.48" width="8.05" height="20.27" fill="#9bb7dd"/>
<line x1="470.47" y1="218.41" x2="470.47" y2="222.56" stroke="#262626" stroke-width="0.8"/>
<line x1="468.87" y1="218.41" x2="472.07" y2="218.41" stroke="#262626" stroke-width="0.8"/>
<line x1="468.87" y1="222.56" x2="472.07" y2="222.56" stroke="#262626" stroke-width="0.8"/>
<rect x="474.50" y="222.82" width="8.05" height="17.93" fill="#dea0a0"/>
<line x1="478.52" y1="221.52" x2="478.52" y2="224.12" stroke="#262626" stroke-width="0.8"/>
<line x1="476.92" y1="221.52" x2="480.12" y2="221.52" stroke="#262626" stroke-width="0.8"/>
<line x1="476.92" y1="224.12" x2="480.12" y2="224.12" stroke="#262626" stroke-width="0.8"/>
<rect x="482.55" y="223.60" width="8.05" height="17.15" fill="#c4d7a0"/>
<line x1="486.57" y1="223.34" x2="486.57" y2="223.86" stroke="#262626" stroke-width="0.8"/>
<line x1="484.97" y1="223.34" x2="488.17" y2="223.34" stroke="#262626" stroke-width="0.8"/>
<line x1="484.97" y1="223.86" x2="488.17" y2="223.86" stroke="#262626" stroke-width="0.8"/>
<line x1="327.50" y1="168.00" x2="327.50" y2="240.75" stroke="#c2c2c2" stroke-width="0.9"/>
<line x1="327.50" y1="240.75" x2="495.80" y2="240.75" stroke="#c2c2c2" stroke-width="0.9"/>
<line x1="327.50" y1="240.75" x2="327.50" y2="243.75" stroke="#c2c2c2" stroke-width="0.8"/>
<line x1="411.65" y1="240.75" x2="411.65" y2="243.75" stroke="#c2c2c2" stroke-width="0.8"/>
<line x1="495.80" y1="240.75" x2="495.80" y2="243.75" stroke="#c2c2c2" stroke-width="0.8"/>
<rect x="298.60" y="125.50" width="4.60" height="4.60" fill="#4a7ebb"/>
<text x="305.50" y="130.70" font-size="8.4" fill="#222" stroke="#222" stroke-width="0.22" textLength="29.5" lengthAdjust="spacingAndGlyphs">Platelets</text>
<rect x="370.50" y="125.50" width="4.60" height="4.60" fill="#be4b48"/>
<text x="377.50" y="130.70" font-size="8.4" fill="#222" stroke="#222" stroke-width="0.22" textLength="17" lengthAdjust="spacingAndGlyphs">RBCs</text>
<rect x="442.70" y="125.50" width="4.60" height="4.60" fill="#98b954"/>
<text x="449.60" y="130.70" font-size="8.4" fill="#222" stroke="#222" stroke-width="0.22" textLength="24.7" lengthAdjust="spacingAndGlyphs">PBMCs</text>
<rect x="298.60" y="137.80" width="4.60" height="4.60" fill="#7d60a0"/>
<text x="305.50" y="143.00" font-size="8.4" fill="#222" stroke="#222" stroke-width="0.22" textLength="32.5" lengthAdjust="spacingAndGlyphs">Thalamus</text>
<rect x="370.50" y="137.80" width="4.60" height="4.60" fill="#46aac5"/>
<text x="377.50" y="143.00" font-size="8.4" fill="#222" stroke="#222" stroke-width="0.22" textLength="18.75" lengthAdjust="spacingAndGlyphs">Heart</text>
<rect x="442.70" y="137.80" width="4.60" height="4.60" fill="#f69240"/>
<text x="449.60" y="143.00" font-size="8.4" fill="#222" stroke="#222" stroke-width="0.22" textLength="16.2" lengthAdjust="spacingAndGlyphs">Lung</text>
<rect x="298.60" y="150.10" width="4.60" height="4.60" fill="#9bb7dd"/>
<text x="305.50" y="155.30" font-size="8.4" fill="#222" stroke="#222" stroke-width="0.22" textLength="15.75" lengthAdjust="spacingAndGlyphs">Liver</text>
<rect x="370.50" y="150.10" width="4.60" height="4.60" fill="#dea0a0"/>
<text x="377.50" y="155.30" font-size="8.4" fill="#222" stroke="#222" stroke-width="0.22" textLength="22.5" lengthAdjust="spacingAndGlyphs">Kidney</text>
<rect x="442.70" y="150.10" width="4.60" height="4.60" fill="#c4d7a0"/>
<text x="449.60" y="155.30" font-size="8.4" fill="#222" stroke="#222" stroke-width="0.22" textLength="38.5" lengthAdjust="spacingAndGlyphs">Spinal Cord</text>
<text x="0" y="0" font-size="8.2" font-weight="bold" text-anchor="middle" textLength="85" lengthAdjust="spacingAndGlyphs" transform="translate(300.20 207.70) rotate(-90)">-ΔΔCT normalized to</text>
<text x="0" y="0" font-size="8.2" font-weight="bold" text-anchor="middle" textLength="63.3" lengthAdjust="spacingAndGlyphs" transform="translate(310.60 204.60) rotate(-90)">linear structure</text>
<text x="369.90" y="255.20" font-size="7.8" fill="#222" stroke="#222" stroke-width="0.22" text-anchor="middle" textLength="73.3" lengthAdjust="spacingAndGlyphs">MAN1A2 Ex5-2/Ex1-2</text>
<text x="454.40" y="255.20" font-size="7.8" fill="#222" stroke="#222" stroke-width="0.22" text-anchor="middle" textLength="75" lengthAdjust="spacingAndGlyphs">MAN1A2 Ex4-2/Ex1-2</text>
<text x="0.40" y="279.80" font-size="12" font-weight="bold">C</text>
<line x1="43.40" y1="282.60" x2="485.00" y2="282.60" stroke="#dadada" stroke-width="0.9"/>
<line x1="40.40" y1="282.60" x2="43.40" y2="282.60" stroke="#c2c2c2" stroke-width="0.8"/>
<text x="37.90" y="284.83" font-size="6.2" fill="#333" stroke="#333" stroke-width="0.22" text-anchor="end" textLength="5.6" lengthAdjust="spacingAndGlyphs">12</text>
<line x1="43.40" y1="291.95" x2="485.00" y2="291.95" stroke="#dadada" stroke-width="0.9"/>
<line x1="40.40" y1="291.95" x2="43.40" y2="291.95" stroke="#c2c2c2" stroke-width="0.8"/>
<text x="37.90" y="294.18" font-size="6.2" fill="#333" stroke="#333" stroke-width="0.22" text-anchor="end" textLength="5.6" lengthAdjust="spacingAndGlyphs">10</text>
<line x1="43.40" y1="301.29" x2="485.00" y2="301.29" stroke="#dadada" stroke-width="0.9"/>
<line x1="40.40" y1="301.29" x2="43.40" y2="301.29" stroke="#c2c2c2" stroke-width="0.8"/>
<text x="37.90" y="303.52" font-size="6.2" fill="#333" stroke="#333" stroke-width="0.22" text-anchor="end" textLength="2.8" lengthAdjust="spacingAndGlyphs">8</text>
<line x1="43.40" y1="310.64" x2="485.00" y2="310.64" stroke="#dadada" stroke-width="0.9"/>
<line x1="40.40" y1="310.64" x2="43.40" y2="310.64" stroke="#c2c2c2" stroke-width="0.8"/>
<text x="37.90" y="312.87" font-size="6.2" fill="#333" stroke="#333" stroke-width="0.22" text-anchor="end" textLength="2.8" lengthAdjust="spacingAndGlyphs">6</text>
<line x1="43.40" y1="319.98" x2="485.00" y2="319.98" stroke="#dadada" stroke-width="0.9"/>
<line x1="40.40" y1="319.98" x2="43.40" y2="319.98" stroke="#c2c2c2" stroke-width="0.8"/>
<text x="37.90" y="322.21" font-size="6.2" fill="#333" stroke="#333" stroke-width="0.22" text-anchor="end" textLength="2.8" lengthAdjust="spacingAndGlyphs">4</text>
<line x1="43.40" y1="329.33" x2="485.00" y2="329.33" stroke="#dadada" stroke-width="0.9"/>
<line x1="40.40" y1="329.33" x2="43.40" y2="329.33" stroke="#c2c2c2" stroke-width="0.8"/>
<text x="37.90" y="331.56" font-size="6.2" fill="#333" stroke="#333" stroke-width="0.22" text-anchor="end" textLength="2.8" lengthAdjust="spacingAndGlyphs">2</text>
<line x1="43.40" y1="338.67" x2="485.00" y2="338.67" stroke="#dadada" stroke-width="0.9"/>
<line x1="40.40" y1="338.67" x2="43.40" y2="338.67" stroke="#c2c2c2" stroke-width="0.8"/>
<text x="37.90" y="340.90" font-size="6.2" fill="#333" stroke="#333" stroke-width="0.22" text-anchor="end" textLength="2.8" lengthAdjust="spacingAndGlyphs">0</text>
<line x1="43.40" y1="348.02" x2="485.00" y2="348.02" stroke="#dadada" stroke-width="0.9"/>
<line x1="40.40" y1="348.02" x2="43.40" y2="348.02" stroke="#c2c2c2" stroke-width="0.8"/>
<text x="37.90" y="350.25" font-size="6.2" fill="#333" stroke="#333" stroke-width="0.22" text-anchor="end" textLength="4.6" lengthAdjust="spacingAndGlyphs">-2</text>
<line x1="43.40" y1="357.36" x2="485.00" y2="357.36" stroke="#dadada" stroke-width="0.9"/>
<line x1="40.40" y1="357.36" x2="43.40" y2="357.36" stroke="#c2c2c2" stroke-width="0.8"/>
<text x="37.90" y="359.60" font-size="6.2" fill="#333" stroke="#333" stroke-width="0.22" text-anchor="end" textLength="4.6" lengthAdjust="spacingAndGlyphs">-4</text>
<line x1="43.40" y1="366.71" x2="485.00" y2="366.71" stroke="#dadada" stroke-width="0.9"/>
<line x1="40.40" y1="366.71" x2="43.40" y2="366.71" stroke="#c2c2c2" stroke-width="0.8"/>
<text x="37.90" y="368.94" font-size="6.2" fill="#333" stroke="#333" stroke-width="0.22" text-anchor="end" textLength="4.6" lengthAdjust="spacingAndGlyphs">-6</text>
<line x1="43.40" y1="376.05" x2="485.00" y2="376.05" stroke="#dadada" stroke-width="0.9"/>
<line x1="40.40" y1="376.05" x2="43.40" y2="376.05" stroke="#c2c2c2" stroke-width="0.8"/>
<text x="37.90" y="378.29" font-size="6.2" fill="#333" stroke="#333" stroke-width="0.22" text-anchor="end" textLength="4.6" lengthAdjust="spacingAndGlyphs">-8</text>
<line x1="40.40" y1="385.40" x2="43.40" y2="385.40" stroke="#c2c2c2" stroke-width="0.8"/>
<text x="37.90" y="387.63" font-size="6.2" fill="#333" stroke="#333" stroke-width="0.22" text-anchor="end" textLength="7.3999999999999995" lengthAdjust="spacingAndGlyphs">-10</text>
<rect x="46.93" y="317.55" width="4.67" height="67.85" fill="#4a7ebb"/>
<line x1="49.27" y1="316.85" x2="49.27" y2="318.25" stroke="#262626" stroke-width="0.8"/>
<line x1="47.66" y1="316.85" x2="50.87" y2="316.85" stroke="#262626" stroke-width="0.8"/>
<line x1="47.66" y1="318.25" x2="50.87" y2="318.25" stroke="#262626" stroke-width="0.8"/>
<rect x="51.60" y="321.38" width="4.67" height="64.02" fill="#be4b48"/>
<line x1="53.94" y1="317.18" x2="53.94" y2="325.59" stroke="#262626" stroke-width="0.8"/>
<line x1="52.34" y1="317.18" x2="55.54" y2="317.18" stroke="#262626" stroke-width="0.8"/>
<line x1="52.34" y1="325.59" x2="55.54" y2="325.59" stroke="#262626" stroke-width="0.8"/>
<rect x="56.27" y="344.09" width="4.67" height="41.31" fill="#98b954"/>
<line x1="58.60" y1="343.39" x2="58.60" y2="344.79" stroke="#262626" stroke-width="0.8"/>
<line x1="57.00" y1="343.39" x2="60.20" y2="343.39" stroke="#262626" stroke-width="0.8"/>
<line x1="57.00" y1="344.79" x2="60.20" y2="344.79" stroke="#262626" stroke-width="0.8"/>
<rect x="60.94" y="347.36" width="4.67" height="38.04" fill="#7d60a0"/>
<line x1="63.27" y1="346.43" x2="63.27" y2="348.30" stroke="#262626" stroke-width="0.8"/>
<line x1="61.67" y1="346.43" x2="64.88" y2="346.43" stroke="#262626" stroke-width="0.8"/>
<line x1="61.67" y1="348.30" x2="64.88" y2="348.30" stroke="#262626" stroke-width="0.8"/>
<rect x="65.61" y="349.42" width="4.67" height="35.98" fill="#46aac5"/>
<line x1="67.94" y1="347.55" x2="67.94" y2="351.29" stroke="#262626" stroke-width="0.8"/>
<line x1="66.34" y1="347.55" x2="69.54" y2="347.55" stroke="#262626" stroke-width="0.8"/>
<line x1="66.34" y1="351.29" x2="69.54" y2="351.29" stroke="#262626" stroke-width="0.8"/>
<rect x="70.28" y="348.39" width="4.67" height="37.01" fill="#f69240"/>
<line x1="72.61" y1="347.92" x2="72.61" y2="348.86" stroke="#262626" stroke-width="0.8"/>
<line x1="71.02" y1="347.92" x2="74.21" y2="347.92" stroke="#262626" stroke-width="0.8"/>
<line x1="71.02" y1="348.86" x2="74.21" y2="348.86" stroke="#262626" stroke-width="0.8"/>
<rect x="74.95" y="345.07" width="4.67" height="40.33" fill="#9bb7dd"/>
<line x1="77.28" y1="344.61" x2="77.28" y2="345.54" stroke="#262626" stroke-width="0.8"/>
<line x1="75.69" y1="344.61" x2="78.88" y2="344.61" stroke="#262626" stroke-width="0.8"/>
<line x1="75.69" y1="345.54" x2="78.88" y2="345.54" stroke="#262626" stroke-width="0.8"/>
<rect x="79.62" y="350.82" width="4.67" height="34.58" fill="#dea0a0"/>
<line x1="81.95" y1="350.35" x2="81.95" y2="351.29" stroke="#262626" stroke-width="0.8"/>
<line x1="80.36" y1="350.35" x2="83.55" y2="350.35" stroke="#262626" stroke-width="0.8"/>
<line x1="80.36" y1="351.29" x2="83.55" y2="351.29" stroke="#262626" stroke-width="0.8"/>
<rect x="84.29" y="346.62" width="4.67" height="38.78" fill="#c4d7a0"/>
<line x1="86.62" y1="344.28" x2="86.62" y2="348.95" stroke="#262626" stroke-width="0.8"/>
<line x1="85.02" y1="344.28" x2="88.22" y2="344.28" stroke="#262626" stroke-width="0.8"/>
<line x1="85.02" y1="348.95" x2="88.22" y2="348.95" stroke="#262626" stroke-width="0.8"/>
<rect x="96.00" y="318.11" width="4.67" height="67.29" fill="#4a7ebb"/>
<line x1="98.33" y1="316.48" x2="98.33" y2="319.75" stroke="#262626" stroke-width="0.8"/>
<line x1="96.73" y1="316.48" x2="99.93" y2="316.48" stroke="#262626" stroke-width="0.8"/>
<line x1="96.73" y1="319.75" x2="99.93" y2="319.75" stroke="#262626" stroke-width="0.8"/>
<rect x="100.67" y="323.25" width="4.67" height="62.15" fill="#be4b48"/>
<line x1="103.00" y1="318.58" x2="103.00" y2="327.93" stroke="#262626" stroke-width="0.8"/>
<line x1="101.40" y1="318.58" x2="104.60" y2="318.58" stroke="#262626" stroke-width="0.8"/>
<line x1="101.40" y1="327.93" x2="104.60" y2="327.93" stroke="#262626" stroke-width="0.8"/>
<rect x="105.34" y="343.67" width="4.67" height="41.73" fill="#98b954"/>
<line x1="107.67" y1="342.97" x2="107.67" y2="344.37" stroke="#262626" stroke-width="0.8"/>
<line x1="106.07" y1="342.97" x2="109.27" y2="342.97" stroke="#262626" stroke-width="0.8"/>
<line x1="106.07" y1="344.37" x2="109.27" y2="344.37" stroke="#262626" stroke-width="0.8"/>
<rect x="110.01" y="345.68" width="4.67" height="39.72" fill="#7d60a0"/>
<line x1="112.34" y1="343.81" x2="112.34" y2="347.55" stroke="#262626" stroke-width="0.8"/>
<line x1="110.74" y1="343.81" x2="113.94" y2="343.81" stroke="#262626" stroke-width="0.8"/>
<line x1="110.74" y1="347.55" x2="113.94" y2="347.55" stroke="#262626" stroke-width="0.8"/>
<rect x="114.68" y="350.35" width="4.67" height="35.05" fill="#46aac5"/>
<line x1="117.01" y1="348.95" x2="117.01" y2="351.76" stroke="#262626" stroke-width="0.8"/>
<line x1="115.41" y1="348.95" x2="118.61" y2="348.95" stroke="#262626" stroke-width="0.8"/>
<line x1="115.41" y1="351.76" x2="118.61" y2="351.76" stroke="#262626" stroke-width="0.8"/>
<rect x="119.35" y="349.89" width="4.67" height="35.51" fill="#f69240"/>
<line x1="121.68" y1="349.42" x2="121.68" y2="350.35" stroke="#262626" stroke-width="0.8"/>
<line x1="120.08" y1="349.42" x2="123.28" y2="349.42" stroke="#262626" stroke-width="0.8"/>
<line x1="120.08" y1="350.35" x2="123.28" y2="350.35" stroke="#262626" stroke-width="0.8"/>
<rect x="124.02" y="350.82" width="4.67" height="34.58" fill="#9bb7dd"/>
<line x1="126.35" y1="350.35" x2="126.35" y2="351.29" stroke="#262626" stroke-width="0.8"/>
<line x1="124.75" y1="350.35" x2="127.95" y2="350.35" stroke="#262626" stroke-width="0.8"/>
<line x1="124.75" y1="351.29" x2="127.95" y2="351.29" stroke="#262626" stroke-width="0.8"/>
<rect x="128.69" y="350.35" width="4.67" height="35.05" fill="#dea0a0"/>
<line x1="131.02" y1="348.95" x2="131.02" y2="351.76" stroke="#262626" stroke-width="0.8"/>
<line x1="129.42" y1="348.95" x2="132.62" y2="348.95" stroke="#262626" stroke-width="0.8"/>
<line x1="129.42" y1="351.76" x2="132.62" y2="351.76" stroke="#262626" stroke-width="0.8"/>
<rect x="133.36" y="346.15" width="4.67" height="39.25" fill="#c4d7a0"/>
<line x1="135.69" y1="344.28" x2="135.69" y2="348.02" stroke="#262626" stroke-width="0.8"/>
<line x1="134.09" y1="344.28" x2="137.29" y2="344.28" stroke="#262626" stroke-width="0.8"/>
<line x1="134.09" y1="348.02" x2="137.29" y2="348.02" stroke="#262626" stroke-width="0.8"/>
<rect x="145.06" y="312.74" width="4.67" height="72.66" fill="#4a7ebb"/>
<line x1="147.40" y1="307.13" x2="147.40" y2="318.35" stroke="#262626" stroke-width="0.8"/>
<line x1="145.80" y1="307.13" x2="149.00" y2="307.13" stroke="#262626" stroke-width="0.8"/>
<line x1="145.80" y1="318.35" x2="149.00" y2="318.35" stroke="#262626" stroke-width="0.8"/>
<rect x="149.73" y="294.00" width="4.67" height="91.40" fill="#be4b48"/>
<line x1="152.07" y1="286.99" x2="152.07" y2="301.01" stroke="#262626" stroke-width="0.8"/>
<line x1="150.47" y1="286.99" x2="153.67" y2="286.99" stroke="#262626" stroke-width="0.8"/>
<line x1="150.47" y1="301.01" x2="153.67" y2="301.01" stroke="#262626" stroke-width="0.8"/>
<rect x="154.40" y="340.68" width="4.67" height="44.72" fill="#98b954"/>
<line x1="156.74" y1="340.21" x2="156.74" y2="341.15" stroke="#262626" stroke-width="0.8"/>
<line x1="155.14" y1="340.21" x2="158.34" y2="340.21" stroke="#262626" stroke-width="0.8"/>
<line x1="155.14" y1="341.15" x2="158.34" y2="341.15" stroke="#262626" stroke-width="0.8"/>
<rect x="159.07" y="340.68" width="4.67" height="44.72" fill="#7d60a0"/>
<line x1="161.41" y1="340.21" x2="161.41" y2="341.15" stroke="#262626" stroke-width="0.8"/>
<line x1="159.81" y1="340.21" x2="163.01" y2="340.21" stroke="#262626" stroke-width="0.8"/>
<line x1="159.81" y1="341.15" x2="163.01" y2="341.15" stroke="#262626" stroke-width="0.8"/>
<rect x="163.74" y="351.29" width="4.67" height="34.11" fill="#46aac5"/>
<line x1="166.08" y1="349.89" x2="166.08" y2="352.69" stroke="#262626" stroke-width="0.8"/>
<line x1="164.48" y1="349.89" x2="167.68" y2="349.89" stroke="#262626" stroke-width="0.8"/>
<line x1="164.48" y1="352.69" x2="167.68" y2="352.69" stroke="#262626" stroke-width="0.8"/>
<rect x="168.41" y="348.35" width="4.67" height="37.05" fill="#f69240"/>
<line x1="170.75" y1="347.88" x2="170.75" y2="348.81" stroke="#262626" stroke-width="0.8"/>
<line x1="169.15" y1="347.88" x2="172.35" y2="347.88" stroke="#262626" stroke-width="0.8"/>
<line x1="169.15" y1="348.81" x2="172.35" y2="348.81" stroke="#262626" stroke-width="0.8"/>
<rect x="173.08" y="347.36" width="4.67" height="38.04" fill="#9bb7dd"/>
<line x1="175.42" y1="345.96" x2="175.42" y2="348.77" stroke="#262626" stroke-width="0.8"/>
<line x1="173.82" y1="345.96" x2="177.02" y2="345.96" stroke="#262626" stroke-width="0.8"/>
<line x1="173.82" y1="348.77" x2="177.02" y2="348.77" stroke="#262626" stroke-width="0.8"/>
<rect x="177.75" y="350.35" width="4.67" height="35.05" fill="#dea0a0"/>
<line x1="180.09" y1="349.89" x2="180.09" y2="350.82" stroke="#262626" stroke-width="0.8"/>
<line x1="178.49" y1="349.89" x2="181.69" y2="349.89" stroke="#262626" stroke-width="0.8"/>
<line x1="178.49" y1="350.82" x2="181.69" y2="350.82" stroke="#262626" stroke-width="0.8"/>
<rect x="182.42" y="344.47" width="4.67" height="40.93" fill="#c4d7a0"/>
<line x1="184.76" y1="342.60" x2="184.76" y2="346.34" stroke="#262626" stroke-width="0.8"/>
<line x1="183.16" y1="342.60" x2="186.36" y2="342.60" stroke="#262626" stroke-width="0.8"/>
<line x1="183.16" y1="346.34" x2="186.36" y2="346.34" stroke="#262626" stroke-width="0.8"/>
<rect x="194.13" y="344.47" width="4.67" height="40.93" fill="#4a7ebb"/>
<line x1="196.47" y1="342.13" x2="196.47" y2="346.80" stroke="#262626" stroke-width="0.8"/>
<line x1="194.87" y1="342.13" x2="198.07" y2="342.13" stroke="#262626" stroke-width="0.8"/>
<line x1="194.87" y1="346.80" x2="198.07" y2="346.80" stroke="#262626" stroke-width="0.8"/>
<rect x="198.80" y="336.80" width="4.67" height="48.60" fill="#be4b48"/>
<line x1="201.14" y1="330.73" x2="201.14" y2="342.88" stroke="#262626" stroke-width="0.8"/>
<line x1="199.54" y1="330.73" x2="202.74" y2="330.73" stroke="#262626" stroke-width="0.8"/>
<line x1="199.54" y1="342.88" x2="202.74" y2="342.88" stroke="#262626" stroke-width="0.8"/>
<rect x="203.47" y="367.64" width="4.67" height="17.76" fill="#98b954"/>
<line x1="205.81" y1="366.71" x2="205.81" y2="368.58" stroke="#262626" stroke-width="0.8"/>
<line x1="204.21" y1="366.71" x2="207.41" y2="366.71" stroke="#262626" stroke-width="0.8"/>
<line x1="204.21" y1="368.58" x2="207.41" y2="368.58" stroke="#262626" stroke-width="0.8"/>
<rect x="208.14" y="358.91" width="4.67" height="26.49" fill="#7d60a0"/>
<line x1="210.48" y1="357.04" x2="210.48" y2="360.77" stroke="#262626" stroke-width="0.8"/>
<line x1="208.88" y1="357.04" x2="212.08" y2="357.04" stroke="#262626" stroke-width="0.8"/>
<line x1="208.88" y1="360.77" x2="212.08" y2="360.77" stroke="#262626" stroke-width="0.8"/>
<rect x="212.81" y="363.72" width="4.67" height="21.68" fill="#46aac5"/>
<line x1="215.15" y1="361.85" x2="215.15" y2="365.59" stroke="#262626" stroke-width="0.8"/>
<line x1="213.55" y1="361.85" x2="216.75" y2="361.85" stroke="#262626" stroke-width="0.8"/>
<line x1="213.55" y1="365.59" x2="216.75" y2="365.59" stroke="#262626" stroke-width="0.8"/>
<rect x="217.48" y="365.77" width="4.67" height="19.63" fill="#f69240"/>
<line x1="219.82" y1="364.84" x2="219.82" y2="366.71" stroke="#262626" stroke-width="0.8"/>
<line x1="218.22" y1="364.84" x2="221.42" y2="364.84" stroke="#262626" stroke-width="0.8"/>
<line x1="218.22" y1="366.71" x2="221.42" y2="366.71" stroke="#262626" stroke-width="0.8"/>
<rect x="222.15" y="369.05" width="4.67" height="16.35" fill="#9bb7dd"/>
<line x1="224.49" y1="367.64" x2="224.49" y2="370.45" stroke="#262626" stroke-width="0.8"/>
<line x1="222.89" y1="367.64" x2="226.09" y2="367.64" stroke="#262626" stroke-width="0.8"/>
<line x1="222.89" y1="370.45" x2="226.09" y2="370.45" stroke="#262626" stroke-width="0.8"/>
<rect x="226.82" y="365.77" width="4.67" height="19.63" fill="#dea0a0"/>
<line x1="229.16" y1="364.37" x2="229.16" y2="367.18" stroke="#262626" stroke-width="0.8"/>
<line x1="227.56" y1="364.37" x2="230.76" y2="364.37" stroke="#262626" stroke-width="0.8"/>
<line x1="227.56" y1="367.18" x2="230.76" y2="367.18" stroke="#262626" stroke-width="0.8"/>
<rect x="231.49" y="358.91" width="4.67" height="26.49" fill="#c4d7a0"/>
<line x1="233.83" y1="356.57" x2="233.83" y2="361.24" stroke="#262626" stroke-width="0.8"/>
<line x1="232.23" y1="356.57" x2="235.43" y2="356.57" stroke="#262626" stroke-width="0.8"/>
<line x1="232.23" y1="361.24" x2="235.43" y2="361.24" stroke="#262626" stroke-width="0.8"/>
<rect x="243.20" y="314.84" width="4.67" height="70.56" fill="#4a7ebb"/>
<line x1="245.53" y1="313.44" x2="245.53" y2="316.24" stroke="#262626" stroke-width="0.8"/>
<line x1="243.93" y1="313.44" x2="247.13" y2="313.44" stroke="#262626" stroke-width="0.8"/>
<line x1="243.93" y1="316.24" x2="247.13" y2="316.24" stroke="#262626" stroke-width="0.8"/>
<rect x="247.87" y="307.60" width="4.67" height="77.80" fill="#be4b48"/>
<line x1="250.20" y1="301.06" x2="250.20" y2="314.14" stroke="#262626" stroke-width="0.8"/>
<line x1="248.60" y1="301.06" x2="251.80" y2="301.06" stroke="#262626" stroke-width="0.8"/>
<line x1="248.60" y1="314.14" x2="251.80" y2="314.14" stroke="#262626" stroke-width="0.8"/>
<rect x="252.54" y="334.56" width="4.67" height="50.84" fill="#98b954"/>
<line x1="254.87" y1="333.63" x2="254.87" y2="335.50" stroke="#262626" stroke-width="0.8"/>
<line x1="253.27" y1="333.63" x2="256.47" y2="333.63" stroke="#262626" stroke-width="0.8"/>
<line x1="253.27" y1="335.50" x2="256.47" y2="335.50" stroke="#262626" stroke-width="0.8"/>
<rect x="257.21" y="338.77" width="4.67" height="46.63" fill="#7d60a0"/>
<line x1="259.54" y1="336.90" x2="259.54" y2="340.64" stroke="#262626" stroke-width="0.8"/>
<line x1="257.94" y1="336.90" x2="261.14" y2="336.90" stroke="#262626" stroke-width="0.8"/>
<line x1="257.94" y1="340.64" x2="261.14" y2="340.64" stroke="#262626" stroke-width="0.8"/>
<rect x="261.88" y="341.94" width="4.67" height="43.46" fill="#46aac5"/>
<line x1="264.21" y1="339.61" x2="264.21" y2="344.28" stroke="#262626" stroke-width="0.8"/>
<line x1="262.61" y1="339.61" x2="265.81" y2="339.61" stroke="#262626" stroke-width="0.8"/>
<line x1="262.61" y1="344.28" x2="265.81" y2="344.28" stroke="#262626" stroke-width="0.8"/>
<rect x="266.55" y="340.92" width="4.67" height="44.48" fill="#f69240"/>
<line x1="268.88" y1="339.51" x2="268.88" y2="342.32" stroke="#262626" stroke-width="0.8"/>
<line x1="267.28" y1="339.51" x2="270.48" y2="339.51" stroke="#262626" stroke-width="0.8"/>
<line x1="267.28" y1="342.32" x2="270.48" y2="342.32" stroke="#262626" stroke-width="0.8"/>
<rect x="271.22" y="342.41" width="4.67" height="42.99" fill="#9bb7dd"/>
<line x1="273.55" y1="341.01" x2="273.55" y2="343.81" stroke="#262626" stroke-width="0.8"/>
<line x1="271.95" y1="341.01" x2="275.15" y2="341.01" stroke="#262626" stroke-width="0.8"/>
<line x1="271.95" y1="343.81" x2="275.15" y2="343.81" stroke="#262626" stroke-width="0.8"/>
<rect x="275.89" y="343.02" width="4.67" height="42.38" fill="#dea0a0"/>
<line x1="278.22" y1="341.62" x2="278.22" y2="344.42" stroke="#262626" stroke-width="0.8"/>
<line x1="276.62" y1="341.62" x2="279.82" y2="341.62" stroke="#262626" stroke-width="0.8"/>
<line x1="276.62" y1="344.42" x2="279.82" y2="344.42" stroke="#262626" stroke-width="0.8"/>
<rect x="280.56" y="338.21" width="4.67" height="47.19" fill="#c4d7a0"/>
<line x1="282.89" y1="335.87" x2="282.89" y2="340.54" stroke="#262626" stroke-width="0.8"/>
<line x1="281.29" y1="335.87" x2="284.49" y2="335.87" stroke="#262626" stroke-width="0.8"/>
<line x1="281.29" y1="340.54" x2="284.49" y2="340.54" stroke="#262626" stroke-width="0.8"/>
<rect x="292.26" y="318.58" width="4.67" height="66.82" fill="#4a7ebb"/>
<line x1="294.60" y1="317.18" x2="294.60" y2="319.98" stroke="#262626" stroke-width="0.8"/>
<line x1="293.00" y1="317.18" x2="296.20" y2="317.18" stroke="#262626" stroke-width="0.8"/>
<line x1="293.00" y1="319.98" x2="296.20" y2="319.98" stroke="#262626" stroke-width="0.8"/>
<rect x="296.93" y="308.53" width="4.67" height="76.87" fill="#be4b48"/>
<line x1="299.27" y1="301.06" x2="299.27" y2="316.01" stroke="#262626" stroke-width="0.8"/>
<line x1="297.67" y1="301.06" x2="300.87" y2="301.06" stroke="#262626" stroke-width="0.8"/>
<line x1="297.67" y1="316.01" x2="300.87" y2="316.01" stroke="#262626" stroke-width="0.8"/>
<rect x="301.60" y="337.74" width="4.67" height="47.66" fill="#98b954"/>
<line x1="303.94" y1="337.27" x2="303.94" y2="338.21" stroke="#262626" stroke-width="0.8"/>
<line x1="302.34" y1="337.27" x2="305.54" y2="337.27" stroke="#262626" stroke-width="0.8"/>
<line x1="302.34" y1="338.21" x2="305.54" y2="338.21" stroke="#262626" stroke-width="0.8"/>
<rect x="306.27" y="341.94" width="4.67" height="43.46" fill="#7d60a0"/>
<line x1="308.61" y1="341.48" x2="308.61" y2="342.41" stroke="#262626" stroke-width="0.8"/>
<line x1="307.01" y1="341.48" x2="310.21" y2="341.48" stroke="#262626" stroke-width="0.8"/>
<line x1="307.01" y1="342.41" x2="310.21" y2="342.41" stroke="#262626" stroke-width="0.8"/>
<rect x="310.94" y="347.88" width="4.67" height="37.52" fill="#46aac5"/>
<line x1="313.28" y1="346.48" x2="313.28" y2="349.28" stroke="#262626" stroke-width="0.8"/>
<line x1="311.68" y1="346.48" x2="314.88" y2="346.48" stroke="#262626" stroke-width="0.8"/>
<line x1="311.68" y1="349.28" x2="314.88" y2="349.28" stroke="#262626" stroke-width="0.8"/>
<rect x="315.61" y="345.21" width="4.67" height="40.19" fill="#f69240"/>
<line x1="317.95" y1="344.75" x2="317.95" y2="345.68" stroke="#262626" stroke-width="0.8"/>
<line x1="316.35" y1="344.75" x2="319.55" y2="344.75" stroke="#262626" stroke-width="0.8"/>
<line x1="316.35" y1="345.68" x2="319.55" y2="345.68" stroke="#262626" stroke-width="0.8"/>
<rect x="320.28" y="347.27" width="4.67" height="38.13" fill="#9bb7dd"/>
<line x1="322.62" y1="346.80" x2="322.62" y2="347.74" stroke="#262626" stroke-width="0.8"/>
<line x1="321.02" y1="346.80" x2="324.22" y2="346.80" stroke="#262626" stroke-width="0.8"/>
<line x1="321.02" y1="347.74" x2="324.22" y2="347.74" stroke="#262626" stroke-width="0.8"/>
<rect x="324.95" y="347.88" width="4.67" height="37.52" fill="#dea0a0"/>
<line x1="327.29" y1="347.41" x2="327.29" y2="348.35" stroke="#262626" stroke-width="0.8"/>
<line x1="325.69" y1="347.41" x2="328.89" y2="347.41" stroke="#262626" stroke-width="0.8"/>
<line x1="325.69" y1="348.35" x2="328.89" y2="348.35" stroke="#262626" stroke-width="0.8"/>
<rect x="329.62" y="341.57" width="4.67" height="43.83" fill="#c4d7a0"/>
<line x1="331.96" y1="341.10" x2="331.96" y2="342.04" stroke="#262626" stroke-width="0.8"/>
<line x1="330.36" y1="341.10" x2="333.56" y2="341.10" stroke="#262626" stroke-width="0.8"/>
<line x1="330.36" y1="342.04" x2="333.56" y2="342.04" stroke="#262626" stroke-width="0.8"/>
<rect x="341.33" y="314.37" width="4.67" height="71.03" fill="#4a7ebb"/>
<line x1="343.66" y1="312.04" x2="343.66" y2="316.71" stroke="#262626" stroke-width="0.8"/>
<line x1="342.06" y1="312.04" x2="345.26" y2="312.04" stroke="#262626" stroke-width="0.8"/>
<line x1="342.06" y1="316.71" x2="345.26" y2="316.71" stroke="#262626" stroke-width="0.8"/>
<rect x="346.00" y="302.83" width="4.67" height="82.57" fill="#be4b48"/>
<line x1="348.33" y1="296.76" x2="348.33" y2="308.91" stroke="#262626" stroke-width="0.8"/>
<line x1="346.73" y1="296.76" x2="349.94" y2="296.76" stroke="#262626" stroke-width="0.8"/>
<line x1="346.73" y1="308.91" x2="349.94" y2="308.91" stroke="#262626" stroke-width="0.8"/>
<rect x="350.67" y="355.82" width="4.67" height="29.58" fill="#98b954"/>
<line x1="353.00" y1="354.42" x2="353.00" y2="357.22" stroke="#262626" stroke-width="0.8"/>
<line x1="351.40" y1="354.42" x2="354.60" y2="354.42" stroke="#262626" stroke-width="0.8"/>
<line x1="351.40" y1="357.22" x2="354.60" y2="357.22" stroke="#262626" stroke-width="0.8"/>
<rect x="355.34" y="355.82" width="4.67" height="29.58" fill="#7d60a0"/>
<line x1="357.67" y1="354.42" x2="357.67" y2="357.22" stroke="#262626" stroke-width="0.8"/>
<line x1="356.07" y1="354.42" x2="359.27" y2="354.42" stroke="#262626" stroke-width="0.8"/>
<line x1="356.07" y1="357.22" x2="359.27" y2="357.22" stroke="#262626" stroke-width="0.8"/>
<rect x="360.01" y="357.83" width="4.67" height="27.57" fill="#46aac5"/>
<line x1="362.34" y1="355.03" x2="362.34" y2="360.63" stroke="#262626" stroke-width="0.8"/>
<line x1="360.74" y1="355.03" x2="363.94" y2="355.03" stroke="#262626" stroke-width="0.8"/>
<line x1="360.74" y1="360.63" x2="363.94" y2="360.63" stroke="#262626" stroke-width="0.8"/>
<rect x="364.68" y="357.83" width="4.67" height="27.57" fill="#f69240"/>
<line x1="367.01" y1="356.90" x2="367.01" y2="358.77" stroke="#262626" stroke-width="0.8"/>
<line x1="365.41" y1="356.90" x2="368.62" y2="356.90" stroke="#262626" stroke-width="0.8"/>
<line x1="365.41" y1="358.77" x2="368.62" y2="358.77" stroke="#262626" stroke-width="0.8"/>
<rect x="369.35" y="358.77" width="4.67" height="26.63" fill="#9bb7dd"/>
<line x1="371.68" y1="357.36" x2="371.68" y2="360.17" stroke="#262626" stroke-width="0.8"/>
<line x1="370.08" y1="357.36" x2="373.28" y2="357.36" stroke="#262626" stroke-width="0.8"/>
<line x1="370.08" y1="360.17" x2="373.28" y2="360.17" stroke="#262626" stroke-width="0.8"/>
<rect x="374.02" y="362.83" width="4.67" height="22.57" fill="#dea0a0"/>
<line x1="376.35" y1="362.36" x2="376.35" y2="363.30" stroke="#262626" stroke-width="0.8"/>
<line x1="374.75" y1="362.36" x2="377.95" y2="362.36" stroke="#262626" stroke-width="0.8"/>
<line x1="374.75" y1="363.30" x2="377.95" y2="363.30" stroke="#262626" stroke-width="0.8"/>
<rect x="378.69" y="354.70" width="4.67" height="30.70" fill="#c4d7a0"/>
<line x1="381.02" y1="352.83" x2="381.02" y2="356.57" stroke="#262626" stroke-width="0.8"/>
<line x1="379.42" y1="352.83" x2="382.62" y2="352.83" stroke="#262626" stroke-width="0.8"/>
<line x1="379.42" y1="356.57" x2="382.62" y2="356.57" stroke="#262626" stroke-width="0.8"/>
<rect x="390.40" y="337.74" width="4.67" height="47.66" fill="#4a7ebb"/>
<line x1="392.73" y1="334.93" x2="392.73" y2="340.54" stroke="#262626" stroke-width="0.8"/>
<line x1="391.13" y1="334.93" x2="394.33" y2="334.93" stroke="#262626" stroke-width="0.8"/>
<line x1="391.13" y1="340.54" x2="394.33" y2="340.54" stroke="#262626" stroke-width="0.8"/>
<rect x="395.07" y="328.86" width="4.67" height="56.54" fill="#be4b48"/>
<line x1="397.40" y1="322.55" x2="397.40" y2="335.17" stroke="#262626" stroke-width="0.8"/>
<line x1="395.80" y1="322.55" x2="399.00" y2="322.55" stroke="#262626" stroke-width="0.8"/>
<line x1="395.80" y1="335.17" x2="399.00" y2="335.17" stroke="#262626" stroke-width="0.8"/>
<rect x="399.74" y="370.45" width="4.67" height="14.95" fill="#98b954"/>
<line x1="402.07" y1="368.11" x2="402.07" y2="372.78" stroke="#262626" stroke-width="0.8"/>
<line x1="400.47" y1="368.11" x2="403.67" y2="368.11" stroke="#262626" stroke-width="0.8"/>
<line x1="400.47" y1="372.78" x2="403.67" y2="372.78" stroke="#262626" stroke-width="0.8"/>
<rect x="404.41" y="364.84" width="4.67" height="20.56" fill="#7d60a0"/>
<line x1="406.74" y1="362.50" x2="406.74" y2="367.18" stroke="#262626" stroke-width="0.8"/>
<line x1="405.14" y1="362.50" x2="408.34" y2="362.50" stroke="#262626" stroke-width="0.8"/>
<line x1="405.14" y1="367.18" x2="408.34" y2="367.18" stroke="#262626" stroke-width="0.8"/>
<rect x="409.08" y="368.11" width="4.67" height="17.29" fill="#46aac5"/>
<line x1="411.41" y1="365.77" x2="411.41" y2="370.45" stroke="#262626" stroke-width="0.8"/>
<line x1="409.81" y1="365.77" x2="413.01" y2="365.77" stroke="#262626" stroke-width="0.8"/>
<line x1="409.81" y1="370.45" x2="413.01" y2="370.45" stroke="#262626" stroke-width="0.8"/>
<rect x="413.75" y="372.32" width="4.67" height="13.08" fill="#f69240"/>
<line x1="416.08" y1="370.91" x2="416.08" y2="373.72" stroke="#262626" stroke-width="0.8"/>
<line x1="414.48" y1="370.91" x2="417.68" y2="370.91" stroke="#262626" stroke-width="0.8"/>
<line x1="414.48" y1="373.72" x2="417.68" y2="373.72" stroke="#262626" stroke-width="0.8"/>
<rect x="418.42" y="381.19" width="4.67" height="4.21" fill="#9bb7dd"/>
<line x1="420.75" y1="378.39" x2="420.75" y2="384.00" stroke="#262626" stroke-width="0.8"/>
<line x1="419.15" y1="378.39" x2="422.35" y2="378.39" stroke="#262626" stroke-width="0.8"/>
<line x1="419.15" y1="384.00" x2="422.35" y2="384.00" stroke="#262626" stroke-width="0.8"/>
<rect x="423.09" y="384.47" width="4.67" height="0.93" fill="#dea0a0"/>
<line x1="425.42" y1="378.86" x2="425.42" y2="385.40" stroke="#262626" stroke-width="0.8"/>
<line x1="423.82" y1="378.86" x2="427.02" y2="378.86" stroke="#262626" stroke-width="0.8"/>
<rect x="427.76" y="365.31" width="4.67" height="20.09" fill="#c4d7a0"/>
<line x1="430.09" y1="363.91" x2="430.09" y2="366.71" stroke="#262626" stroke-width="0.8"/>
<line x1="428.49" y1="363.91" x2="431.69" y2="363.91" stroke="#262626" stroke-width="0.8"/>
<line x1="428.49" y1="366.71" x2="431.69" y2="366.71" stroke="#262626" stroke-width="0.8"/>
<rect x="439.46" y="336.10" width="4.67" height="49.30" fill="#4a7ebb"/>
<line x1="441.80" y1="331.90" x2="441.80" y2="340.31" stroke="#262626" stroke-width="0.8"/>
<line x1="440.20" y1="331.90" x2="443.40" y2="331.90" stroke="#262626" stroke-width="0.8"/>
<line x1="440.20" y1="340.31" x2="443.40" y2="340.31" stroke="#262626" stroke-width="0.8"/>
<rect x="444.13" y="327.93" width="4.67" height="57.47" fill="#be4b48"/>
<line x1="446.47" y1="321.38" x2="446.47" y2="334.47" stroke="#262626" stroke-width="0.8"/>
<line x1="444.87" y1="321.38" x2="448.07" y2="321.38" stroke="#262626" stroke-width="0.8"/>
<line x1="444.87" y1="334.47" x2="448.07" y2="334.47" stroke="#262626" stroke-width="0.8"/>
<rect x="448.80" y="376.05" width="4.67" height="9.35" fill="#98b954"/>
<line x1="451.14" y1="373.72" x2="451.14" y2="378.39" stroke="#262626" stroke-width="0.8"/>
<line x1="449.54" y1="373.72" x2="452.74" y2="373.72" stroke="#262626" stroke-width="0.8"/>
<line x1="449.54" y1="378.39" x2="452.74" y2="378.39" stroke="#262626" stroke-width="0.8"/>
<rect x="453.47" y="372.13" width="4.67" height="13.27" fill="#7d60a0"/>
<line x1="455.81" y1="368.39" x2="455.81" y2="375.87" stroke="#262626" stroke-width="0.8"/>
<line x1="454.21" y1="368.39" x2="457.41" y2="368.39" stroke="#262626" stroke-width="0.8"/>
<line x1="454.21" y1="375.87" x2="457.41" y2="375.87" stroke="#262626" stroke-width="0.8"/>
<rect x="458.14" y="381.19" width="4.67" height="4.21" fill="#46aac5"/>
<line x1="460.48" y1="378.86" x2="460.48" y2="383.53" stroke="#262626" stroke-width="0.8"/>
<line x1="458.88" y1="378.86" x2="462.08" y2="378.86" stroke="#262626" stroke-width="0.8"/>
<line x1="458.88" y1="383.53" x2="462.08" y2="383.53" stroke="#262626" stroke-width="0.8"/>
<rect x="462.81" y="373.02" width="4.67" height="12.38" fill="#f69240"/>
<line x1="465.15" y1="372.55" x2="465.15" y2="373.48" stroke="#262626" stroke-width="0.8"/>
<line x1="463.55" y1="372.55" x2="466.75" y2="372.55" stroke="#262626" stroke-width="0.8"/>
<line x1="463.55" y1="373.48" x2="466.75" y2="373.48" stroke="#262626" stroke-width="0.8"/>
<rect x="467.48" y="377.92" width="4.67" height="7.48" fill="#9bb7dd"/>
<line x1="469.82" y1="377.46" x2="469.82" y2="378.39" stroke="#262626" stroke-width="0.8"/>
<line x1="468.22" y1="377.46" x2="471.42" y2="377.46" stroke="#262626" stroke-width="0.8"/>
<line x1="468.22" y1="378.39" x2="471.42" y2="378.39" stroke="#262626" stroke-width="0.8"/>
<rect x="472.15" y="384.47" width="4.67" height="0.93" fill="#dea0a0"/>
<line x1="474.49" y1="376.05" x2="474.49" y2="385.40" stroke="#262626" stroke-width="0.8"/>
<line x1="472.89" y1="376.05" x2="476.09" y2="376.05" stroke="#262626" stroke-width="0.8"/>
<rect x="476.82" y="375.12" width="4.67" height="10.28" fill="#c4d7a0"/>
<line x1="479.16" y1="372.32" x2="479.16" y2="377.92" stroke="#262626" stroke-width="0.8"/>
<line x1="477.56" y1="372.32" x2="480.76" y2="372.32" stroke="#262626" stroke-width="0.8"/>
<line x1="477.56" y1="377.92" x2="480.76" y2="377.92" stroke="#262626" stroke-width="0.8"/>
<line x1="43.40" y1="282.60" x2="43.40" y2="385.40" stroke="#c2c2c2" stroke-width="0.9"/>
<line x1="43.40" y1="385.40" x2="485.00" y2="385.40" stroke="#c2c2c2" stroke-width="0.9"/>
<line x1="43.40" y1="385.40" x2="43.40" y2="388.40" stroke="#c2c2c2" stroke-width="0.8"/>
<line x1="92.47" y1="385.40" x2="92.47" y2="388.40" stroke="#c2c2c2" stroke-width="0.8"/>
<line x1="141.53" y1="385.40" x2="141.53" y2="388.40" stroke="#c2c2c2" stroke-width="0.8"/>
<line x1="190.60" y1="385.40" x2="190.60" y2="388.40" stroke="#c2c2c2" stroke-width="0.8"/>
<line x1="239.67" y1="385.40" x2="239.67" y2="388.40" stroke="#c2c2c2" stroke-width="0.8"/>
<line x1="288.73" y1="385.40" x2="288.73" y2="388.40" stroke="#c2c2c2" stroke-width="0.8"/>
<line x1="337.80" y1="385.40" x2="337.80" y2="388.40" stroke="#c2c2c2" stroke-width="0.8"/>
<line x1="386.87" y1="385.40" x2="386.87" y2="388.40" stroke="#c2c2c2" stroke-width="0.8"/>
<line x1="435.93" y1="385.40" x2="435.93" y2="388.40" stroke="#c2c2c2" stroke-width="0.8"/>
<line x1="485.00" y1="385.40" x2="485.00" y2="388.40" stroke="#c2c2c2" stroke-width="0.8"/>
<rect x="157.00" y="281.20" width="341.00" height="8.80" fill="#fff"/>
<rect x="160.60" y="284.10" width="4.50" height="4.50" fill="#4a7ebb"/>
<text x="166.90" y="288.90" font-size="8.4" fill="#222" stroke="#222" stroke-width="0.22" textLength="29.6" lengthAdjust="spacingAndGlyphs">Platelets</text>
<rect x="201.50" y="284.10" width="4.50" height="4.50" fill="#be4b48"/>
<text x="207.70" y="288.90" font-size="8.4" fill="#222" stroke="#222" stroke-width="0.22" textLength="16.9" lengthAdjust="spacingAndGlyphs">RBCs</text>
<rect x="229.40" y="284.10" width="4.50" height="4.50" fill="#98b954"/>
<text x="236.50" y="288.90" font-size="8.4" fill="#222" stroke="#222" stroke-width="0.22" textLength="24.2" lengthAdjust="spacingAndGlyphs">PBMCs</text>
<rect x="266.10" y="284.10" width="4.50" height="4.50" fill="#7d60a0"/>
<text x="272.30" y="288.90" font-size="8.4" fill="#222" stroke="#222" stroke-width="0.22" textLength="50.1" lengthAdjust="spacingAndGlyphs">Brain thalamus</text>
<rect x="328.50" y="284.10" width="4.50" height="4.50" fill="#46aac5"/>
<text x="335.00" y="288.90" font-size="8.4" fill="#222" stroke="#222" stroke-width="0.22" textLength="19.6" lengthAdjust="spacingAndGlyphs">Heart</text>
<rect x="360.00" y="284.10" width="4.50" height="4.50" fill="#f69240"/>
<text x="366.20" y="288.90" font-size="8.4" fill="#222" stroke="#222" stroke-width="0.22" textLength="16.3" lengthAdjust="spacingAndGlyphs">Lung</text>
<rect x="388.00" y="284.10" width="4.50" height="4.50" fill="#9bb7dd"/>
<text x="393.80" y="288.90" font-size="8.4" fill="#222" stroke="#222" stroke-width="0.22" textLength="16.4" lengthAdjust="spacingAndGlyphs">Liver</text>
<rect x="415.50" y="284.10" width="4.50" height="4.50" fill="#dea0a0"/>
<text x="421.70" y="288.90" font-size="8.4" fill="#222" stroke="#222" stroke-width="0.22" textLength="22.9" lengthAdjust="spacingAndGlyphs">Kidney</text>
<rect x="450.50" y="284.10" width="4.50" height="4.50" fill="#c4d7a0"/>
<text x="456.20" y="288.90" font-size="8.4" fill="#222" stroke="#222" stroke-width="0.22" textLength="39" lengthAdjust="spacingAndGlyphs">Spinal Cord</text>
<text x="0" y="0" font-size="8.2" font-weight="bold" text-anchor="middle" textLength="86.6" lengthAdjust="spacingAndGlyphs" transform="translate(17.20 336.50) rotate(-90)">-ΔΔCT normalized to</text>
<text x="0" y="0" font-size="8.2" font-weight="bold" text-anchor="middle" textLength="67.5" lengthAdjust="spacingAndGlyphs" transform="translate(26.90 336.00) rotate(-90)">linear structure</text>
<text x="0" y="0" font-size="7.3" fill="#111" stroke="#111" stroke-width="0.22" transform="translate(67.94 399.00) rotate(20) scale(0.97 1)">PHC3 EX 6-5/Ex 4-5</text>
<text x="0" y="0" font-size="7.3" fill="#111" stroke="#111" stroke-width="0.22" transform="translate(117.00 399.00) rotate(20) scale(0.97 1)">PHC3 EX 7-5/Ex4-5</text>
<text x="0" y="0" font-size="7.3" fill="#111" stroke="#111" stroke-width="0.22" transform="translate(166.07 399.00) rotate(20) scale(0.97 1)">SAMARCA5 EX 16-15/Ex 14-15</text>
<text x="0" y="0" font-size="7.3" fill="#111" stroke="#111" stroke-width="0.22" transform="translate(215.15 399.00) rotate(20) scale(0.97 1)">UBXN7 EX 5-2/Ex5-6</text>
<text x="0" y="0" font-size="7.3" fill="#111" stroke="#111" stroke-width="0.22" transform="translate(264.21 399.00) rotate(20) scale(0.97 1)">UBXN7 EX 5-3/Ex5-6</text>
<text x="0" y="0" font-size="7.3" fill="#111" stroke="#111" stroke-width="0.22" transform="translate(313.28 399.00) rotate(20) scale(0.97 1)">UBXN7 EX 5-4/Ex5-6</text>
<text x="0" y="0" font-size="7.3" fill="#111" stroke="#111" stroke-width="0.22" transform="translate(362.35 399.00) rotate(20) scale(0.97 1)">PNN EX 8-7/Ex8-9</text>
<text x="0" y="0" font-size="7.3" fill="#111" stroke="#111" stroke-width="0.22" transform="translate(411.42 399.00) rotate(20) scale(0.97 1)">PPA2 EX 5-2/Ex1-2</text>
<text x="0" y="0" font-size="7.3" fill="#111" stroke="#111" stroke-width="0.22" transform="translate(460.50 399.00) rotate(20) scale(0.97 1)">PPA2 EX 6-2/Ex1-2</text>
<text x="0.60" y="455.70" font-size="11.5" font-weight="bold">D</text>
<line x1="60.00" y1="458.50" x2="427.70" y2="458.50" stroke="#dadada" stroke-width="0.9"/>
<line x1="57.00" y1="458.50" x2="60.00" y2="458.50" stroke="#c2c2c2" stroke-width="0.8"/>
<text x="54.50" y="460.73" font-size="6.2" fill="#333" stroke="#333" stroke-width="0.22" text-anchor="end" textLength="5.6" lengthAdjust="spacingAndGlyphs">12</text>
<line x1="60.00" y1="472.57" x2="427.70" y2="472.57" stroke="#dadada" stroke-width="0.9"/>
<line x1="57.00" y1="472.57" x2="60.00" y2="472.57" stroke="#c2c2c2" stroke-width="0.8"/>
<text x="54.50" y="474.80" font-size="6.2" fill="#333" stroke="#333" stroke-width="0.22" text-anchor="end" textLength="5.6" lengthAdjust="spacingAndGlyphs">10</text>
<line x1="60.00" y1="486.63" x2="427.70" y2="486.63" stroke="#dadada" stroke-width="0.9"/>
<line x1="57.00" y1="486.63" x2="60.00" y2="486.63" stroke="#c2c2c2" stroke-width="0.8"/>
<text x="54.50" y="488.87" font-size="6.2" fill="#333" stroke="#333" stroke-width="0.22" text-anchor="end" textLength="2.8" lengthAdjust="spacingAndGlyphs">8</text>
<line x1="60.00" y1="500.70" x2="427.70" y2="500.70" stroke="#dadada" stroke-width="0.9"/>
<line x1="57.00" y1="500.70" x2="60.00" y2="500.70" stroke="#c2c2c2" stroke-width="0.8"/>
<text x="54.50" y="502.93" font-size="6.2" fill="#333" stroke="#333" stroke-width="0.22" text-anchor="end" textLength="2.8" lengthAdjust="spacingAndGlyphs">6</text>
<line x1="60.00" y1="514.77" x2="427.70" y2="514.77" stroke="#dadada" stroke-width="0.9"/>
<line x1="57.00" y1="514.77" x2="60.00" y2="514.77" stroke="#c2c2c2" stroke-width="0.8"/>
<text x="54.50" y="517.00" font-size="6.2" fill="#333" stroke="#333" stroke-width="0.22" text-anchor="end" textLength="2.8" lengthAdjust="spacingAndGlyphs">4</text>
<line x1="60.00" y1="528.83" x2="427.70" y2="528.83" stroke="#dadada" stroke-width="0.9"/>
<line x1="57.00" y1="528.83" x2="60.00" y2="528.83" stroke="#c2c2c2" stroke-width="0.8"/>
<text x="54.50" y="531.07" font-size="6.2" fill="#333" stroke="#333" stroke-width="0.22" text-anchor="end" textLength="2.8" lengthAdjust="spacingAndGlyphs">2</text>
<line x1="57.00" y1="542.90" x2="60.00" y2="542.90" stroke="#c2c2c2" stroke-width="0.8"/>
<text x="54.50" y="545.13" font-size="6.2" fill="#333" stroke="#333" stroke-width="0.22" text-anchor="end" textLength="2.8" lengthAdjust="spacingAndGlyphs">0</text>
<rect x="66.87" y="529.54" width="9.70" height="13.36" fill="#4a7ebb"/>
<line x1="71.72" y1="528.48" x2="71.72" y2="530.59" stroke="#262626" stroke-width="0.8"/>
<line x1="70.12" y1="528.48" x2="73.32" y2="528.48" stroke="#262626" stroke-width="0.8"/>
<line x1="70.12" y1="530.59" x2="73.32" y2="530.59" stroke="#262626" stroke-width="0.8"/>
<rect x="76.57" y="523.21" width="9.70" height="19.69" fill="#be4b48"/>
<line x1="81.42" y1="521.80" x2="81.42" y2="524.61" stroke="#262626" stroke-width="0.8"/>
<line x1="79.82" y1="521.80" x2="83.02" y2="521.80" stroke="#262626" stroke-width="0.8"/>
<line x1="79.82" y1="524.61" x2="83.02" y2="524.61" stroke="#262626" stroke-width="0.8"/>
<rect x="86.27" y="511.95" width="9.70" height="30.95" fill="#98b954"/>
<line x1="91.12" y1="509.49" x2="91.12" y2="514.41" stroke="#262626" stroke-width="0.8"/>
<line x1="89.52" y1="509.49" x2="92.72" y2="509.49" stroke="#262626" stroke-width="0.8"/>
<line x1="89.52" y1="514.41" x2="92.72" y2="514.41" stroke="#262626" stroke-width="0.8"/>
<rect x="95.97" y="513.78" width="9.70" height="29.12" fill="#7d60a0"/>
<line x1="100.82" y1="510.62" x2="100.82" y2="516.95" stroke="#262626" stroke-width="0.8"/>
<line x1="99.22" y1="510.62" x2="102.42" y2="510.62" stroke="#262626" stroke-width="0.8"/>
<line x1="99.22" y1="516.95" x2="102.42" y2="516.95" stroke="#262626" stroke-width="0.8"/>
<rect x="119.40" y="536.22" width="9.70" height="6.68" fill="#4a7ebb"/>
<line x1="124.25" y1="533.76" x2="124.25" y2="538.68" stroke="#262626" stroke-width="0.8"/>
<line x1="122.65" y1="533.76" x2="125.85" y2="533.76" stroke="#262626" stroke-width="0.8"/>
<line x1="122.65" y1="538.68" x2="125.85" y2="538.68" stroke="#262626" stroke-width="0.8"/>
<rect x="129.10" y="530.03" width="9.70" height="12.87" fill="#be4b48"/>
<line x1="133.95" y1="528.62" x2="133.95" y2="531.44" stroke="#262626" stroke-width="0.8"/>
<line x1="132.35" y1="528.62" x2="135.55" y2="528.62" stroke="#262626" stroke-width="0.8"/>
<line x1="132.35" y1="531.44" x2="135.55" y2="531.44" stroke="#262626" stroke-width="0.8"/>
<rect x="138.80" y="514.77" width="9.70" height="28.13" fill="#98b954"/>
<line x1="143.65" y1="513.71" x2="143.65" y2="515.82" stroke="#262626" stroke-width="0.8"/>
<line x1="142.05" y1="513.71" x2="145.25" y2="513.71" stroke="#262626" stroke-width="0.8"/>
<line x1="142.05" y1="515.82" x2="145.25" y2="515.82" stroke="#262626" stroke-width="0.8"/>
<rect x="148.50" y="515.47" width="9.70" height="27.43" fill="#7d60a0"/>
<line x1="153.35" y1="512.30" x2="153.35" y2="518.63" stroke="#262626" stroke-width="0.8"/>
<line x1="151.75" y1="512.30" x2="154.95" y2="512.30" stroke="#262626" stroke-width="0.8"/>
<line x1="151.75" y1="518.63" x2="154.95" y2="518.63" stroke="#262626" stroke-width="0.8"/>
<rect x="171.93" y="515.47" width="9.70" height="27.43" fill="#4a7ebb"/>
<line x1="176.78" y1="514.41" x2="176.78" y2="516.52" stroke="#262626" stroke-width="0.8"/>
<line x1="175.18" y1="514.41" x2="178.38" y2="514.41" stroke="#262626" stroke-width="0.8"/>
<line x1="175.18" y1="516.52" x2="178.38" y2="516.52" stroke="#262626" stroke-width="0.8"/>
<rect x="181.63" y="519.20" width="9.70" height="23.70" fill="#be4b48"/>
<line x1="186.48" y1="517.79" x2="186.48" y2="520.60" stroke="#262626" stroke-width="0.8"/>
<line x1="184.88" y1="517.79" x2="188.08" y2="517.79" stroke="#262626" stroke-width="0.8"/>
<line x1="184.88" y1="520.60" x2="188.08" y2="520.60" stroke="#262626" stroke-width="0.8"/>
<rect x="191.33" y="473.97" width="9.70" height="68.93" fill="#98b954"/>
<line x1="196.18" y1="472.57" x2="196.18" y2="475.38" stroke="#262626" stroke-width="0.8"/>
<line x1="194.58" y1="472.57" x2="197.78" y2="472.57" stroke="#262626" stroke-width="0.8"/>
<line x1="194.58" y1="475.38" x2="197.78" y2="475.38" stroke="#262626" stroke-width="0.8"/>
<rect x="201.03" y="471.51" width="9.70" height="71.39" fill="#7d60a0"/>
<line x1="205.88" y1="467.64" x2="205.88" y2="475.38" stroke="#262626" stroke-width="0.8"/>
<line x1="204.28" y1="467.64" x2="207.48" y2="467.64" stroke="#262626" stroke-width="0.8"/>
<line x1="204.28" y1="475.38" x2="207.48" y2="475.38" stroke="#262626" stroke-width="0.8"/>
<rect x="224.46" y="540.79" width="9.70" height="2.11" fill="#4a7ebb"/>
<line x1="229.31" y1="539.38" x2="229.31" y2="542.20" stroke="#262626" stroke-width="0.8"/>
<line x1="227.71" y1="539.38" x2="230.91" y2="539.38" stroke="#262626" stroke-width="0.8"/>
<line x1="227.71" y1="542.20" x2="230.91" y2="542.20" stroke="#262626" stroke-width="0.8"/>
<rect x="234.16" y="523.91" width="9.70" height="18.99" fill="#be4b48"/>
<line x1="239.01" y1="521.80" x2="239.01" y2="526.02" stroke="#262626" stroke-width="0.8"/>
<line x1="237.41" y1="521.80" x2="240.61" y2="521.80" stroke="#262626" stroke-width="0.8"/>
<line x1="237.41" y1="526.02" x2="240.61" y2="526.02" stroke="#262626" stroke-width="0.8"/>
<rect x="243.86" y="531.65" width="9.70" height="11.25" fill="#98b954"/>
<line x1="248.71" y1="529.54" x2="248.71" y2="533.76" stroke="#262626" stroke-width="0.8"/>
<line x1="247.11" y1="529.54" x2="250.31" y2="529.54" stroke="#262626" stroke-width="0.8"/>
<line x1="247.11" y1="533.76" x2="250.31" y2="533.76" stroke="#262626" stroke-width="0.8"/>
<rect x="253.56" y="499.29" width="9.70" height="43.61" fill="#7d60a0"/>
<line x1="258.41" y1="495.78" x2="258.41" y2="502.81" stroke="#262626" stroke-width="0.8"/>
<line x1="256.81" y1="495.78" x2="260.01" y2="495.78" stroke="#262626" stroke-width="0.8"/>
<line x1="256.81" y1="502.81" x2="260.01" y2="502.81" stroke="#262626" stroke-width="0.8"/>
<rect x="276.98" y="526.93" width="9.70" height="15.97" fill="#4a7ebb"/>
<line x1="281.83" y1="526.23" x2="281.83" y2="527.64" stroke="#262626" stroke-width="0.8"/>
<line x1="280.23" y1="526.23" x2="283.43" y2="526.23" stroke="#262626" stroke-width="0.8"/>
<line x1="280.23" y1="527.64" x2="283.43" y2="527.64" stroke="#262626" stroke-width="0.8"/>
<rect x="286.68" y="524.96" width="9.70" height="17.94" fill="#be4b48"/>
<line x1="291.53" y1="522.86" x2="291.53" y2="527.07" stroke="#262626" stroke-width="0.8"/>
<line x1="289.93" y1="522.86" x2="293.13" y2="522.86" stroke="#262626" stroke-width="0.8"/>
<line x1="289.93" y1="527.07" x2="293.13" y2="527.07" stroke="#262626" stroke-width="0.8"/>
<rect x="296.38" y="505.76" width="9.70" height="37.14" fill="#98b954"/>
<line x1="301.23" y1="504.71" x2="301.23" y2="506.82" stroke="#262626" stroke-width="0.8"/>
<line x1="299.63" y1="504.71" x2="302.83" y2="504.71" stroke="#262626" stroke-width="0.8"/>
<line x1="299.63" y1="506.82" x2="302.83" y2="506.82" stroke="#262626" stroke-width="0.8"/>
<rect x="306.08" y="499.29" width="9.70" height="43.61" fill="#7d60a0"/>
<line x1="310.93" y1="496.13" x2="310.93" y2="502.46" stroke="#262626" stroke-width="0.8"/>
<line x1="309.33" y1="496.13" x2="312.53" y2="496.13" stroke="#262626" stroke-width="0.8"/>
<line x1="309.33" y1="502.46" x2="312.53" y2="502.46" stroke="#262626" stroke-width="0.8"/>
<rect x="329.51" y="523.00" width="9.70" height="19.90" fill="#4a7ebb"/>
<line x1="334.36" y1="522.29" x2="334.36" y2="523.70" stroke="#262626" stroke-width="0.8"/>
<line x1="332.76" y1="522.29" x2="335.96" y2="522.29" stroke="#262626" stroke-width="0.8"/>
<line x1="332.76" y1="523.70" x2="335.96" y2="523.70" stroke="#262626" stroke-width="0.8"/>
<rect x="339.21" y="524.96" width="9.70" height="17.94" fill="#be4b48"/>
<line x1="344.06" y1="523.21" x2="344.06" y2="526.72" stroke="#262626" stroke-width="0.8"/>
<line x1="342.46" y1="523.21" x2="345.66" y2="523.21" stroke="#262626" stroke-width="0.8"/>
<line x1="342.46" y1="526.72" x2="345.66" y2="526.72" stroke="#262626" stroke-width="0.8"/>
<rect x="348.91" y="503.16" width="9.70" height="39.74" fill="#98b954"/>
<line x1="353.76" y1="502.46" x2="353.76" y2="503.87" stroke="#262626" stroke-width="0.8"/>
<line x1="352.16" y1="502.46" x2="355.36" y2="502.46" stroke="#262626" stroke-width="0.8"/>
<line x1="352.16" y1="503.87" x2="355.36" y2="503.87" stroke="#262626" stroke-width="0.8"/>
<rect x="358.61" y="473.97" width="9.70" height="68.93" fill="#7d60a0"/>
<line x1="363.46" y1="470.46" x2="363.46" y2="477.49" stroke="#262626" stroke-width="0.8"/>
<line x1="361.86" y1="470.46" x2="365.06" y2="470.46" stroke="#262626" stroke-width="0.8"/>
<line x1="361.86" y1="477.49" x2="365.06" y2="477.49" stroke="#262626" stroke-width="0.8"/>
<rect x="382.04" y="513.01" width="9.70" height="29.89" fill="#4a7ebb"/>
<line x1="386.89" y1="512.30" x2="386.89" y2="513.71" stroke="#262626" stroke-width="0.8"/>
<line x1="385.29" y1="512.30" x2="388.49" y2="512.30" stroke="#262626" stroke-width="0.8"/>
<line x1="385.29" y1="513.71" x2="388.49" y2="513.71" stroke="#262626" stroke-width="0.8"/>
<rect x="391.74" y="515.61" width="9.70" height="27.29" fill="#be4b48"/>
<line x1="396.59" y1="512.09" x2="396.59" y2="519.13" stroke="#262626" stroke-width="0.8"/>
<line x1="394.99" y1="512.09" x2="398.19" y2="512.09" stroke="#262626" stroke-width="0.8"/>
<line x1="394.99" y1="519.13" x2="398.19" y2="519.13" stroke="#262626" stroke-width="0.8"/>
<rect x="401.44" y="481.01" width="9.70" height="61.89" fill="#98b954"/>
<line x1="406.29" y1="476.79" x2="406.29" y2="485.23" stroke="#262626" stroke-width="0.8"/>
<line x1="404.69" y1="476.79" x2="407.89" y2="476.79" stroke="#262626" stroke-width="0.8"/>
<line x1="404.69" y1="485.23" x2="407.89" y2="485.23" stroke="#262626" stroke-width="0.8"/>
<rect x="411.14" y="495.78" width="9.70" height="47.12" fill="#7d60a0"/>
<line x1="415.99" y1="491.56" x2="415.99" y2="500.00" stroke="#262626" stroke-width="0.8"/>
<line x1="414.39" y1="491.56" x2="417.59" y2="491.56" stroke="#262626" stroke-width="0.8"/>
<line x1="414.39" y1="500.00" x2="417.59" y2="500.00" stroke="#262626" stroke-width="0.8"/>
<line x1="60.00" y1="458.50" x2="60.00" y2="542.90" stroke="#c2c2c2" stroke-width="0.9"/>
<line x1="60.00" y1="542.90" x2="427.70" y2="542.90" stroke="#c2c2c2" stroke-width="0.9"/>
<line x1="60.00" y1="542.90" x2="60.00" y2="545.90" stroke="#c2c2c2" stroke-width="0.8"/>
<line x1="112.53" y1="542.90" x2="112.53" y2="545.90" stroke="#c2c2c2" stroke-width="0.8"/>
<line x1="165.06" y1="542.90" x2="165.06" y2="545.90" stroke="#c2c2c2" stroke-width="0.8"/>
<line x1="217.59" y1="542.90" x2="217.59" y2="545.90" stroke="#c2c2c2" stroke-width="0.8"/>
<line x1="270.11" y1="542.90" x2="270.11" y2="545.90" stroke="#c2c2c2" stroke-width="0.8"/>
<line x1="322.64" y1="542.90" x2="322.64" y2="545.90" stroke="#c2c2c2" stroke-width="0.8"/>
<line x1="375.17" y1="542.90" x2="375.17" y2="545.90" stroke="#c2c2c2" stroke-width="0.8"/>
<line x1="427.70" y1="542.90" x2="427.70" y2="545.90" stroke="#c2c2c2" stroke-width="0.8"/>
<rect x="441.40" y="480.80" width="4.70" height="4.70" fill="#4a7ebb"/>
<text x="448.60" y="486.00" font-size="8.4" fill="#222" stroke="#222" stroke-width="0.22" textLength="29.1" lengthAdjust="spacingAndGlyphs">Platelets</text>
<rect x="441.40" y="494.60" width="4.70" height="4.70" fill="#be4b48"/>
<text x="448.60" y="499.80" font-size="8.4" fill="#222" stroke="#222" stroke-width="0.22" textLength="16.4" lengthAdjust="spacingAndGlyphs">RBCs</text>
<rect x="441.40" y="508.40" width="4.70" height="4.70" fill="#98b954"/>
<text x="448.60" y="513.70" font-size="8.4" fill="#222" stroke="#222" stroke-width="0.22" textLength="23.6" lengthAdjust="spacingAndGlyphs">PBMCs</text>
<rect x="441.40" y="522.20" width="4.70" height="4.70" fill="#7d60a0"/>
<text x="448.60" y="527.40" font-size="8.4" fill="#222" stroke="#222" stroke-width="0.22" textLength="26.2" lengthAdjust="spacingAndGlyphs">HEK293</text>
<text x="0" y="0" font-size="8.2" font-weight="bold" text-anchor="middle" textLength="87.6" lengthAdjust="spacingAndGlyphs" transform="translate(20.20 505.80) rotate(-90)">-ΔΔCT normalized to</text>
<text x="0" y="0" font-size="8.2" font-weight="bold" text-anchor="middle" textLength="71.2" lengthAdjust="spacingAndGlyphs" transform="translate(30.60 505.40) rotate(-90)">linear  and mock</text>
<text x="0" y="0" font-size="8.2" font-weight="bold" text-anchor="middle" textLength="37.3" lengthAdjust="spacingAndGlyphs" transform="translate(40.30 503.20) rotate(-90)">digestion</text>
<text x="0" y="0" font-size="7.3" fill="#111" stroke="#111" stroke-width="0.22" transform="translate(86.27 555.60) rotate(12.5) scale(0.97 1)">PHC3 Ex 6-5/Ex 4-5</text>
<text x="0" y="0" font-size="7.3" fill="#111" stroke="#111" stroke-width="0.22" transform="translate(138.80 555.60) rotate(12.5) scale(0.97 1)">PHC3 Ex 7-5/Ex 4-5</text>
<text x="0" y="0" font-size="7.3" fill="#111" stroke="#111" stroke-width="0.22" transform="translate(191.32 555.60) rotate(12.5) scale(0.97 1)">SMARCA5 Ex16-15/14-15</text>
<text x="0" y="0" font-size="7.3" fill="#111" stroke="#111" stroke-width="0.22" transform="translate(243.86 555.60) rotate(12.5) scale(0.97 1)">MAN1A2 Ex 5-2/Ex 1-2</text>
<text x="0" y="0" font-size="7.3" fill="#111" stroke="#111" stroke-width="0.22" transform="translate(296.38 555.60) rotate(12.5) scale(0.97 1)">UBXN7 Ex 5-3/Ex5-6</text>
<text x="0" y="0" font-size="7.3" fill="#111" stroke="#111" stroke-width="0.22" transform="translate(348.92 555.60) rotate(12.5) scale(0.97 1)">UBXN7 Ex 5-4/Ex5-6</text>
<text x="0" y="0" font-size="7.3" fill="#111" stroke="#111" stroke-width="0.22" transform="translate(401.44 555.60) rotate(12.5) scale(0.97 1)">PNN Ex 8-7/Ex 8-9</text>
</svg></body></html>
